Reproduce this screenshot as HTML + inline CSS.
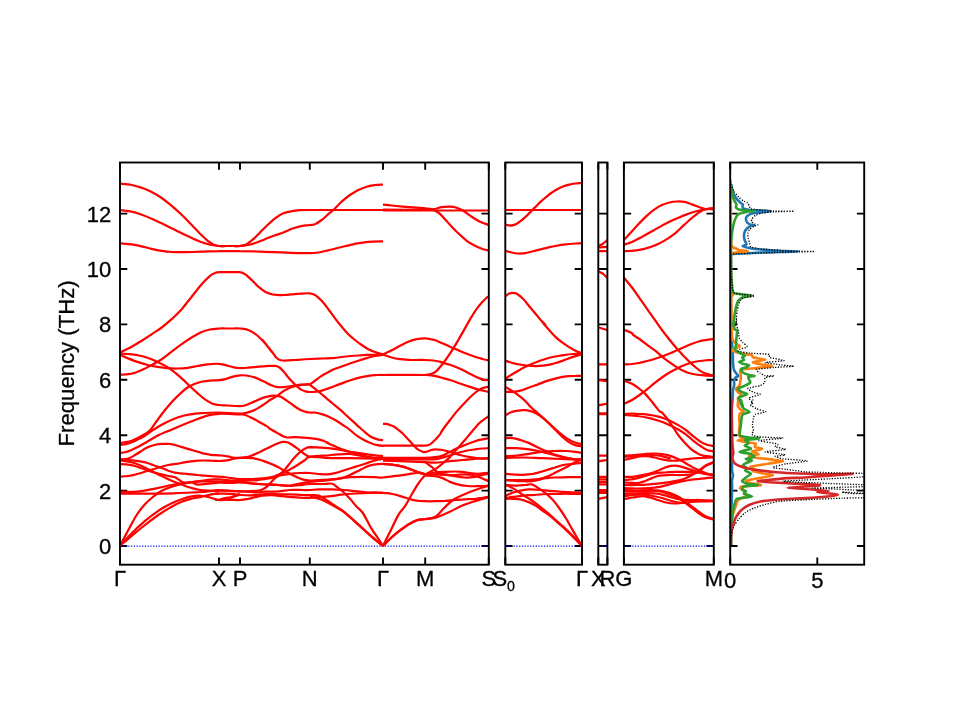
<!DOCTYPE html>
<html lang="en"><head><meta charset="utf-8"><title>Phonon band structure and DOS</title>
<style>
html,body{margin:0;padding:0;background:#fff;}
body{width:960px;height:720px;overflow:hidden;font-family:"Liberation Sans",sans-serif;}
svg{display:block;}
svg text{font-family:"Liberation Sans",sans-serif;font-size:22px;fill:#000;stroke:#000;stroke-width:0.3px;}
.sp{fill:none;stroke:#000;stroke-width:1.90;stroke-linecap:square;stroke-linejoin:miter;}
.tk{fill:none;stroke:#000;stroke-width:1.90;stroke-linecap:butt;}
.bd{fill:none;stroke:#f00;stroke-width:2.22;stroke-linecap:butt;stroke-linejoin:round;}
.zl{fill:none;stroke:#00f;stroke-width:1.25;stroke-dasharray:1.2 1.56;}
.ds{fill:none;stroke-width:2.6;stroke-linejoin:round;stroke-linecap:butt;}
.dt{fill:none;stroke:#000;stroke-width:1.3;stroke-dasharray:1.25 1.5;stroke-linejoin:round;}
</style></head><body>
<svg width="960" height="720" viewBox="0 0 960 720">
<rect width="960" height="720" fill="#fff"/>
<defs>
<clipPath id="c0"><rect x="120.0" y="162.5" width="368.8" height="402.2"/></clipPath>
<clipPath id="c1"><rect x="505.3" y="162.5" width="76.7" height="402.2"/></clipPath>
<clipPath id="c2"><rect x="598.3" y="162.5" width="9.1" height="402.2"/></clipPath>
<clipPath id="c3"><rect x="623.9" y="162.5" width="89.9" height="402.2"/></clipPath>
<clipPath id="c4"><rect x="730.2" y="162.5" width="134.0" height="402.2"/></clipPath>
</defs>
<path class="tk" d="M120.0,546.0 h7.3 M488.8,546.0 h-7.3 M120.0,490.6 h7.3 M488.8,490.6 h-7.3 M120.0,435.2 h7.3 M488.8,435.2 h-7.3 M120.0,379.8 h7.3 M488.8,379.8 h-7.3 M120.0,324.4 h7.3 M488.8,324.4 h-7.3 M120.0,269.0 h7.3 M488.8,269.0 h-7.3 M120.0,213.6 h7.3 M488.8,213.6 h-7.3 M505.3,546.0 h7.3 M582.0,546.0 h-7.3 M505.3,490.6 h7.3 M582.0,490.6 h-7.3 M505.3,435.2 h7.3 M582.0,435.2 h-7.3 M505.3,379.8 h7.3 M582.0,379.8 h-7.3 M505.3,324.4 h7.3 M582.0,324.4 h-7.3 M505.3,269.0 h7.3 M582.0,269.0 h-7.3 M505.3,213.6 h7.3 M582.0,213.6 h-7.3 M598.3,546.0 h7.3 M607.4,546.0 h-7.3 M598.3,490.6 h7.3 M607.4,490.6 h-7.3 M598.3,435.2 h7.3 M607.4,435.2 h-7.3 M598.3,379.8 h7.3 M607.4,379.8 h-7.3 M598.3,324.4 h7.3 M607.4,324.4 h-7.3 M598.3,269.0 h7.3 M607.4,269.0 h-7.3 M598.3,213.6 h7.3 M607.4,213.6 h-7.3 M623.9,546.0 h7.3 M713.8,546.0 h-7.3 M623.9,490.6 h7.3 M713.8,490.6 h-7.3 M623.9,435.2 h7.3 M713.8,435.2 h-7.3 M623.9,379.8 h7.3 M713.8,379.8 h-7.3 M623.9,324.4 h7.3 M713.8,324.4 h-7.3 M623.9,269.0 h7.3 M713.8,269.0 h-7.3 M623.9,213.6 h7.3 M713.8,213.6 h-7.3 M730.2,546.0 h7.3 M864.2,546.0 h-7.3 M730.2,490.6 h7.3 M864.2,490.6 h-7.3 M730.2,435.2 h7.3 M864.2,435.2 h-7.3 M730.2,379.8 h7.3 M864.2,379.8 h-7.3 M730.2,324.4 h7.3 M864.2,324.4 h-7.3 M730.2,269.0 h7.3 M864.2,269.0 h-7.3 M730.2,213.6 h7.3 M864.2,213.6 h-7.3 M219.0,564.7 v-7.3 M219.0,162.5 v7.3 M240.0,564.7 v-7.3 M240.0,162.5 v7.3 M309.8,564.7 v-7.3 M309.8,162.5 v7.3 M383.0,564.7 v-7.3 M383.0,162.5 v7.3 M425.2,564.7 v-7.3 M425.2,162.5 v7.3 M817.3,564.7 v-7.3 M817.3,162.5 v7.3 M120.0,564.7 v-7.3 M120.0,162.5 v7.3 M488.8,564.7 v-7.3 M488.8,162.5 v7.3 M505.3,564.7 v-7.3 M505.3,162.5 v7.3 M582.0,564.7 v-7.3 M582.0,162.5 v7.3 M598.3,564.7 v-7.3 M598.3,162.5 v7.3 M607.4,564.7 v-7.3 M607.4,162.5 v7.3 M623.9,564.7 v-7.3 M623.9,162.5 v7.3 M713.8,564.7 v-7.3 M713.8,162.5 v7.3 M730.2,564.7 v-7.3 M730.2,162.5 v7.3"/>
<path class="zl" d="M120.0,546.0 H488.8"/>
<path class="zl" d="M505.3,546.0 H582.0"/>
<path class="zl" d="M598.3,546.0 H607.4"/>
<path class="zl" d="M623.9,546.0 H713.8"/>
<g clip-path="url(#c0)">
<path class="bd" d="M120.0,183.7C121.9,183.9 128.1,184.3 131.7,185.0C135.3,185.7 138.3,186.7 141.7,187.8C145.0,189.0 148.3,190.3 151.7,192.0C155.0,193.7 158.3,195.7 161.7,198.0C165.0,200.3 168.3,203.1 171.7,205.8C175.0,208.6 178.3,211.5 181.7,214.7C185.0,217.9 188.3,221.6 191.7,225.0C195.0,228.4 198.9,232.6 201.7,235.3C204.4,238.0 206.4,239.6 208.3,241.2C210.3,242.7 211.6,243.7 213.3,244.5C215.1,245.3 216.9,245.8 219.0,246.0C221.1,246.2 223.4,246.0 225.8,246.0C228.2,246.0 231.0,246.0 233.3,246.0C235.7,246.0 237.8,246.3 240.0,246.0C242.2,245.7 244.4,245.3 246.7,244.2C248.9,243.0 251.1,241.1 253.3,239.2C255.6,237.2 257.8,234.7 260.0,232.5C262.2,230.3 264.2,228.2 266.7,225.8C269.2,223.5 272.2,220.4 275.0,218.3C277.8,216.2 280.6,214.5 283.3,213.3C286.1,212.1 288.9,211.7 291.7,211.2C294.4,210.6 297.0,210.4 300.0,210.2C303.0,210.0 302.9,210.0 309.8,210.0C316.8,210.0 329.5,210.0 341.7,210.0C353.9,210.0 376.1,210.0 383.0,210.0"/>
<path class="bd" d="M120.0,210.0C121.9,210.3 128.1,210.9 131.7,211.7C135.3,212.4 138.3,213.5 141.7,214.7C145.0,215.8 148.3,217.2 151.7,218.7C155.0,220.1 158.3,221.7 161.7,223.3C165.0,224.9 168.3,226.7 171.7,228.3C175.0,230.0 178.3,231.7 181.7,233.3C185.0,234.9 188.3,236.5 191.7,238.0C195.0,239.5 198.6,241.1 201.7,242.2C204.7,243.3 207.1,244.0 210.0,244.7C212.9,245.3 216.4,245.8 219.0,246.0C221.6,246.2 223.4,246.0 225.8,246.0C228.2,246.0 231.0,246.0 233.3,246.0C235.7,246.0 237.5,246.2 240.0,246.0C242.5,245.8 245.6,245.6 248.3,245.0C251.1,244.4 253.9,243.5 256.7,242.5C259.4,241.5 261.9,240.4 265.0,239.2C268.1,238.0 271.9,236.4 275.0,235.3C278.1,234.2 280.6,233.6 283.3,232.5C286.1,231.4 288.9,229.9 291.7,228.8C294.4,227.8 297.0,227.0 300.0,226.3C303.0,225.7 307.3,225.4 309.8,225.0C312.3,224.6 313.0,225.0 315.0,224.2C317.0,223.3 319.4,221.7 321.7,220.0C323.9,218.3 326.4,215.8 328.3,214.2C330.3,212.5 331.1,212.1 333.3,210.0C335.6,207.9 338.9,204.2 341.7,201.7C344.4,199.2 347.2,196.9 350.0,195.0C352.8,193.1 355.6,191.4 358.3,190.0C361.1,188.6 363.9,187.5 366.7,186.7C369.4,185.8 372.3,185.4 375.0,185.0C377.7,184.6 381.7,184.6 383.0,184.5"/>
<path class="bd" d="M120.0,243.3C121.9,243.5 128.1,243.8 131.7,244.3C135.3,244.8 138.3,245.6 141.7,246.3C145.0,247.1 148.3,248.1 151.7,248.8C155.0,249.6 158.3,250.3 161.7,250.8C165.0,251.4 168.3,251.8 171.7,252.0C175.0,252.2 178.3,252.2 181.7,252.2C185.0,252.2 188.3,252.1 191.7,252.0C195.0,251.9 198.3,251.8 201.7,251.7C205.0,251.6 208.8,251.4 211.7,251.3C214.6,251.2 216.6,251.2 219.0,251.2C221.4,251.1 223.4,251.2 225.8,251.2C228.2,251.2 231.0,251.2 233.3,251.2C235.7,251.2 236.1,251.1 240.0,251.2C243.9,251.2 250.8,251.3 256.7,251.5C262.5,251.7 269.2,251.9 275.0,252.2C280.8,252.4 285.9,252.7 291.7,252.8C297.5,253.0 305.4,253.2 309.8,253.2C314.3,253.1 315.2,253.0 318.3,252.5C321.4,252.0 324.4,251.2 328.3,250.3C332.2,249.4 337.2,248.1 341.7,247.0C346.1,245.9 350.6,244.7 355.0,243.8C359.4,243.0 363.7,242.2 368.3,241.8C373.0,241.4 380.6,241.4 383.0,241.3"/>
<path class="bd" d="M383.0,204.7C385.8,204.9 394.4,205.8 400.0,206.3C405.6,206.8 412.5,207.3 416.7,207.7C420.9,208.0 422.7,208.1 425.2,208.3C427.7,208.6 429.5,208.5 431.7,209.2C433.9,209.9 436.1,210.8 438.3,212.5C440.6,214.2 442.8,216.8 445.0,219.2C447.2,221.5 449.4,224.3 451.7,226.7C453.9,229.0 455.8,231.0 458.3,233.3C460.8,235.7 463.9,238.7 466.7,240.8C469.4,242.9 472.2,244.4 475.0,245.8C477.8,247.2 481.0,248.4 483.3,249.2C485.6,249.9 487.9,250.3 488.8,250.5"/>
<path class="bd" d="M383.0,209.7C390.0,209.7 416.8,209.8 425.2,209.7C433.6,209.6 430.6,209.6 433.3,209.2C436.1,208.8 438.9,207.6 441.7,207.2C444.4,206.8 447.5,206.6 450.0,206.7C452.5,206.8 454.4,207.0 456.7,207.7C458.9,208.4 460.8,209.3 463.3,210.8C465.8,212.3 468.9,214.9 471.7,216.7C474.4,218.5 477.1,220.3 480.0,221.7C482.9,223.1 487.4,224.4 488.8,225.0"/>
<path class="bd" d="M383.0,210.5C400.6,210.5 471.2,210.5 488.8,210.5"/>
<path class="bd" d="M120.0,352.5C121.9,351.5 128.1,348.6 131.7,346.7C135.3,344.7 138.3,342.9 141.7,340.8C145.0,338.8 148.3,336.4 151.7,334.2C155.0,331.9 158.3,330.0 161.7,327.5C165.0,325.0 168.3,322.2 171.7,319.2C175.0,316.1 178.3,312.9 181.7,309.2C185.0,305.4 188.3,300.8 191.7,296.7C195.0,292.5 198.6,287.6 201.7,284.2C204.7,280.7 207.8,277.7 210.0,275.8C212.2,274.0 213.5,273.6 215.0,273.0C216.5,272.4 217.2,272.3 219.0,272.2C220.8,272.0 223.4,272.2 225.8,272.2C228.2,272.2 231.0,272.2 233.3,272.2C235.7,272.2 238.1,271.8 240.0,272.2C241.9,272.5 243.1,272.9 245.0,274.2C246.9,275.5 249.4,277.9 251.7,280.0C253.9,282.1 256.1,284.7 258.3,286.7C260.6,288.6 262.8,290.4 265.0,291.7C267.2,292.9 270.0,293.7 271.7,294.2C273.3,294.7 273.1,294.5 275.0,294.7C276.9,294.8 280.6,295.1 283.3,295.0C286.1,294.9 288.9,294.6 291.7,294.3C294.4,294.1 297.0,293.8 300.0,293.7C303.0,293.5 307.3,293.1 309.8,293.3C312.3,293.6 313.0,293.8 315.0,295.0C317.0,296.2 319.4,298.5 321.7,300.8C323.9,303.2 326.1,306.2 328.3,309.2C330.6,312.1 332.8,315.4 335.0,318.3C337.2,321.2 339.4,324.0 341.7,326.7C343.9,329.3 346.1,331.9 348.3,334.2C350.6,336.4 352.8,338.2 355.0,340.0C357.2,341.8 359.4,343.5 361.7,345.0C363.9,346.5 366.1,348.0 368.3,349.2C370.6,350.3 372.6,351.1 375.0,352.0C377.4,352.9 381.7,354.1 383.0,354.5"/>
<path class="bd" d="M120.0,374.7C121.9,374.5 128.1,374.4 131.7,373.7C135.3,372.9 138.3,371.4 141.7,370.0C145.0,368.6 148.3,366.8 151.7,365.0C155.0,363.2 158.3,361.4 161.7,359.2C165.0,356.9 168.3,354.2 171.7,351.7C175.0,349.2 178.3,346.5 181.7,344.2C185.0,341.8 188.3,339.5 191.7,337.5C195.0,335.5 198.6,333.3 201.7,332.0C204.7,330.7 207.1,330.1 210.0,329.5C212.9,328.9 216.4,328.7 219.0,328.5C221.6,328.3 223.4,328.5 225.8,328.5C228.2,328.5 231.0,328.5 233.3,328.5C235.7,328.5 237.5,328.2 240.0,328.5C242.5,328.8 245.6,328.9 248.3,330.0C251.1,331.1 253.9,332.8 256.7,335.0C259.4,337.2 262.5,340.6 265.0,343.3C267.5,346.1 272.1,352.2 271.7,351.7C271.2,351.1 263.2,340.9 262.5,340.0C261.8,339.1 265.8,344.2 267.5,346.2C269.2,348.3 271.0,350.6 272.5,352.5C274.0,354.4 275.0,356.2 276.2,357.5C277.5,358.8 278.5,359.5 280.0,360.0C281.5,360.5 282.5,360.6 285.0,360.6C287.5,360.6 290.8,360.3 295.0,360.0C299.2,359.7 305.4,359.2 310.0,359.0C314.6,358.8 318.3,358.7 322.5,358.5C326.7,358.3 331.8,358.1 335.0,357.9C338.2,357.6 337.8,357.4 341.7,357.0C345.6,356.6 352.8,355.9 358.3,355.5C363.9,355.1 370.9,354.8 375.0,354.7C379.1,354.5 381.7,354.5 383.0,354.5"/>
<path class="bd" d="M383.0,354.5C384.4,353.8 388.8,351.8 391.7,350.3C394.5,348.9 397.2,347.3 400.0,345.8C402.8,344.4 405.6,342.8 408.3,341.7C411.1,340.6 413.9,339.7 416.7,339.2C419.5,338.6 422.4,338.2 425.2,338.3C427.9,338.4 430.6,338.9 433.3,339.7C436.1,340.4 438.9,341.8 441.7,343.0C444.4,344.2 447.2,345.4 450.0,346.7C452.8,347.9 455.6,349.1 458.3,350.3C461.1,351.5 463.9,352.8 466.7,353.8C469.4,354.9 472.2,355.8 475.0,356.7C477.8,357.6 481.0,358.5 483.3,359.2C485.6,359.8 487.9,360.3 488.8,360.5"/>
<path class="bd" d="M383.0,354.5C384.4,355.0 388.8,356.7 391.7,357.5C394.5,358.3 397.2,358.8 400.0,359.2C402.8,359.6 405.6,359.7 408.3,359.8C411.1,360.0 413.9,360.0 416.7,360.0C419.5,360.0 422.4,359.9 425.2,360.0C427.9,360.1 430.6,360.2 433.3,360.5C436.1,360.8 440.6,361.8 441.7,362.0C442.8,362.2 438.6,361.4 440.0,361.9C441.4,362.3 446.7,363.6 450.0,364.8C453.3,365.9 456.7,367.2 460.0,368.8C463.3,370.2 467.1,372.3 470.0,373.8C472.9,375.2 475.2,376.5 477.5,377.5C479.8,378.5 481.9,379.3 483.8,379.8C485.6,380.2 487.9,380.2 488.8,380.2"/>
<path class="bd" d="M425.0,375.0C426.1,374.8 429.7,374.4 431.7,373.7C433.6,373.0 435.0,372.3 436.7,370.8C438.3,369.4 440.0,367.1 441.7,365.0C443.3,362.9 444.7,361.1 446.7,358.3C448.6,355.6 451.4,351.4 453.3,348.3C455.3,345.3 456.4,343.3 458.3,340.0C460.3,336.7 462.8,332.2 465.0,328.3C467.2,324.4 469.4,320.3 471.7,316.7C473.9,313.1 476.1,309.6 478.3,306.7C480.6,303.8 483.2,300.9 485.0,299.2C486.8,297.4 488.2,296.8 488.8,296.3"/>
<path class="bd" d="M120.0,353.5C121.2,353.6 124.6,353.7 127.5,354.0C130.4,354.3 134.2,354.6 137.5,355.2C140.8,355.9 144.2,356.6 147.5,357.8C150.8,358.9 154.6,360.6 157.5,361.9C160.4,363.2 162.5,364.2 165.0,365.6C167.5,367.1 170.0,368.8 172.5,370.6C175.0,372.5 177.1,374.3 180.0,376.9C182.9,379.5 187.1,383.5 190.0,386.2C192.9,389.0 195.0,390.9 197.5,393.1C200.0,395.3 202.5,397.6 205.0,399.4C207.5,401.1 210.2,402.8 212.5,403.8C214.8,404.7 216.5,404.7 219.0,405.0C221.5,405.3 224.0,405.3 227.5,405.5C231.0,405.7 236.9,406.3 240.0,406.2C243.1,406.2 243.8,405.8 246.2,405.0C248.7,404.2 251.8,402.5 254.6,401.4C257.4,400.2 260.1,398.8 262.9,397.9C265.7,397.0 268.8,396.2 271.2,395.8C273.7,395.5 275.8,395.7 277.5,395.9C279.2,396.2 279.9,396.3 281.7,397.2C283.4,398.1 285.8,399.9 287.9,401.4C290.0,402.8 292.1,404.6 294.2,406.0C296.2,407.5 298.3,409.0 300.4,410.0C302.5,411.0 305.1,411.7 306.7,412.1C308.2,412.5 308.3,412.4 309.8,412.5C311.3,412.6 313.8,412.4 315.6,412.6C317.5,412.8 318.9,413.3 320.8,413.9C322.7,414.4 325.0,415.1 327.1,415.9C329.2,416.8 331.2,417.9 333.3,419.1C335.4,420.2 337.5,421.4 339.6,422.7C341.7,424.0 344.1,425.7 345.8,426.9C347.6,428.1 348.1,428.4 350.0,430.0C351.9,431.6 355.0,434.5 357.5,436.2C360.0,438.0 362.5,439.4 365.0,440.6C367.5,441.9 370.4,443.0 372.5,443.8C374.6,444.5 375.8,444.9 377.5,445.2C379.2,445.6 382.1,445.9 383.0,446.0"/>
<path class="bd" d="M120.0,354.8C121.2,355.3 124.6,356.9 127.5,358.1C130.4,359.3 134.2,360.7 137.5,361.9C140.8,363.0 144.2,364.2 147.5,365.0C150.8,365.8 154.2,366.4 157.5,366.9C160.8,367.4 164.2,367.9 167.5,368.1C170.8,368.4 174.2,368.6 177.5,368.5C180.8,368.4 184.2,368.2 187.5,367.8C190.8,367.3 194.2,366.6 197.5,366.0C200.8,365.4 203.9,364.8 207.5,364.4C211.1,364.0 216.0,363.6 219.0,363.8C222.0,363.9 223.0,364.6 225.4,365.2C227.9,365.8 231.3,366.8 233.8,367.3C236.2,367.8 237.6,368.0 240.0,368.0C242.4,368.1 245.2,367.9 248.3,367.7C251.5,367.5 255.3,367.0 258.8,366.7C262.2,366.4 266.4,366.1 269.2,365.9C271.9,365.8 273.7,365.7 275.4,365.9C277.2,366.2 278.2,366.5 279.6,367.5C281.0,368.5 282.4,370.1 283.8,371.7C285.1,373.2 286.5,375.2 287.9,376.9C289.3,378.5 290.7,380.1 292.1,381.6C293.5,383.0 294.7,384.3 296.2,385.7C297.8,387.1 299.7,388.9 301.5,389.9C303.2,390.9 305.3,391.3 306.7,391.7C308.1,392.0 308.3,392.0 309.8,392.0C311.3,392.0 313.8,391.8 315.6,391.7C317.5,391.5 318.9,391.4 320.8,390.9C322.7,390.5 324.7,389.7 327.1,388.9C329.5,388.0 332.6,386.8 335.4,385.7C338.2,384.7 341.0,383.6 343.8,382.6C346.5,381.6 349.3,380.7 352.1,379.8C354.9,378.9 357.6,378.1 360.4,377.4C363.2,376.7 366.0,376.2 368.8,375.8C371.5,375.4 374.7,375.2 377.1,375.0C379.5,374.8 382.0,374.8 383.0,374.8"/>
<path class="bd" d="M120.0,443.0C120.8,442.9 123.1,442.7 125.0,442.3C126.9,441.9 129.4,441.4 131.7,440.7C133.9,439.9 136.1,438.8 138.3,437.7C140.6,436.6 143.0,435.3 145.0,434.0C147.0,432.7 148.2,432.3 150.3,430.0C152.4,427.7 155.1,423.3 157.5,420.0C159.9,416.7 162.5,413.1 165.0,410.0C167.5,406.9 170.0,404.0 172.5,401.2C175.0,398.5 177.5,396.0 180.0,393.8C182.5,391.5 185.0,389.2 187.5,387.5C190.0,385.8 192.5,384.8 195.0,383.8C197.5,382.8 200.0,382.0 202.5,381.5C205.0,381.0 207.2,380.8 210.0,380.6C212.8,380.4 216.4,380.5 219.0,380.2C221.6,380.0 223.0,379.8 225.4,379.2C227.9,378.5 231.3,377.0 233.8,376.4C236.2,375.7 237.9,375.5 240.0,375.3C242.1,375.2 243.8,375.2 246.2,375.5C248.7,375.9 251.8,376.5 254.6,377.4C257.4,378.3 260.1,379.7 262.9,381.0C265.7,382.3 268.8,384.2 271.2,385.2C273.7,386.2 275.4,386.8 277.5,387.1C279.6,387.4 281.3,387.3 283.8,387.1C286.2,386.9 289.3,386.4 292.1,386.0C294.9,385.6 298.0,385.0 300.4,384.7C302.8,384.4 305.1,384.4 306.7,384.4C308.2,384.3 309.3,384.4 309.8,384.4"/>
<path class="bd" d="M309.8,384.7C310.6,385.3 312.7,386.9 314.6,388.3C316.4,389.8 318.8,391.8 320.8,393.5C322.9,395.3 325.0,397.0 327.1,398.8C329.2,400.5 331.2,402.2 333.3,404.0C335.4,405.7 337.5,407.3 339.6,409.2C341.7,411.0 343.8,413.0 345.8,414.9C347.9,416.8 350.0,418.7 352.1,420.6C354.2,422.5 356.6,424.8 358.3,426.4C360.1,427.9 360.6,428.4 362.5,430.0C364.4,431.6 367.5,434.7 370.0,436.2C372.5,437.8 375.3,438.7 377.5,439.4C379.7,440.0 382.1,440.1 383.0,440.2"/>
<path class="bd" d="M309.8,384.7C310.6,384.1 312.7,382.4 314.6,381.0C316.4,379.7 318.8,377.7 320.8,376.4C322.9,375.0 325.0,373.8 327.1,372.7C329.2,371.6 330.9,370.6 333.3,369.6C335.8,368.5 338.9,367.5 341.7,366.5C344.4,365.5 347.2,364.5 350.0,363.5C352.8,362.6 355.6,361.6 358.3,360.7C361.1,359.8 363.9,358.9 366.7,358.1C369.4,357.3 372.3,356.6 375.0,356.0C377.7,355.5 381.7,355.2 383.0,355.0"/>
<path class="bd" d="M120.0,445.0C120.8,444.9 123.1,444.8 125.0,444.3C126.9,443.9 129.4,443.2 131.7,442.3C133.9,441.5 136.1,440.4 138.3,439.3C140.6,438.2 142.9,437.0 145.0,435.7C147.1,434.3 149.7,432.3 151.0,431.3C152.3,430.4 150.7,431.4 153.0,430.0C155.3,428.6 160.9,425.2 165.0,423.1C169.1,421.0 173.3,419.0 177.5,417.5C181.7,416.0 185.8,415.1 190.0,414.4C194.2,413.6 197.7,413.4 202.5,413.1C207.3,412.8 212.8,412.4 219.0,412.5C225.2,412.6 235.5,413.5 240.0,413.5C244.5,413.6 243.8,413.5 246.2,412.9C248.7,412.3 251.8,411.3 254.6,410.0C257.4,408.7 260.1,406.8 262.9,405.0C265.7,403.2 268.8,400.8 271.2,399.3C273.7,397.7 275.4,397.0 277.5,395.6C279.6,394.2 281.7,392.2 283.8,390.9C285.8,389.6 287.9,388.6 290.0,387.8C292.1,387.0 294.0,386.5 296.2,385.9C298.5,385.4 301.3,384.9 303.5,384.7C305.8,384.4 308.8,384.4 309.8,384.4"/>
<path class="bd" d="M120.0,453.0C120.8,452.9 123.1,452.8 125.0,452.3C126.9,451.8 129.4,450.9 131.7,450.0C133.9,449.1 136.1,447.8 138.3,446.7C140.6,445.5 142.8,444.3 145.0,443.0C147.2,441.7 149.4,440.3 151.7,439.0C153.9,437.7 156.1,436.4 158.3,435.3C160.6,434.2 162.9,433.2 165.0,432.3C167.1,431.4 168.1,431.2 171.0,430.0C173.9,428.8 178.5,426.7 182.5,425.0C186.5,423.3 190.8,421.6 195.0,420.0C199.2,418.4 203.5,416.7 207.5,415.6C211.5,414.6 213.6,414.0 219.0,413.8C224.4,413.5 235.8,414.2 240.0,414.4C244.2,414.5 242.4,414.3 244.2,414.8C245.9,415.3 248.0,416.0 250.4,417.2C252.8,418.3 256.0,420.1 258.8,421.7C261.5,423.2 265.2,425.2 267.1,426.4C269.0,427.5 268.3,427.6 270.0,428.8C271.7,429.9 275.2,431.8 277.5,433.1C279.8,434.4 282.1,435.8 283.8,436.5C285.4,437.2 285.4,437.4 287.5,437.5C289.6,437.6 292.5,437.1 296.2,437.2C300.0,437.4 306.0,437.8 309.8,438.1C313.5,438.5 315.8,438.6 318.8,439.4C321.7,440.1 326.0,441.9 327.5,442.5C329.0,443.1 325.8,442.3 327.5,443.1C329.2,444.0 334.2,446.1 337.5,447.5C340.8,448.9 344.2,450.4 347.5,451.2C350.8,452.1 354.2,452.2 357.5,452.8C360.8,453.3 364.2,453.9 367.5,454.4C370.8,454.9 374.9,455.3 377.5,455.6C380.1,455.9 382.1,456.1 383.0,456.2"/>
<path class="bd" d="M120.0,459.3C120.8,459.3 123.4,459.4 125.0,459.2C126.6,459.0 128.0,458.7 129.7,458.0C131.3,457.3 133.2,456.1 135.0,455.0C136.8,453.9 138.6,452.8 140.3,451.7C142.1,450.6 143.9,449.3 145.7,448.3C147.4,447.4 149.2,446.6 151.0,446.0C152.8,445.4 154.6,444.9 156.3,444.5C158.1,444.2 159.9,444.0 161.7,443.9C163.4,443.8 165.2,443.8 167.0,443.9C168.8,443.9 168.2,443.3 172.3,444.3C176.4,445.4 187.4,448.8 191.7,450.0C195.9,451.2 195.6,451.1 197.7,451.7C199.8,452.3 202.1,453.1 204.3,453.7C206.6,454.2 208.6,454.5 211.0,454.8C213.4,455.1 216.2,455.1 219.0,455.3C221.8,455.6 225.2,455.9 227.7,456.3C230.1,456.7 231.6,457.4 233.7,457.7C235.7,457.9 238.9,457.8 240.0,457.9"/>
<path class="bd" d="M120.0,476.7C121.4,476.6 125.8,476.3 128.3,476.0C130.8,475.7 132.8,475.2 135.0,474.7C137.2,474.1 139.4,473.3 141.7,472.7C143.9,472.0 146.1,471.3 148.3,470.7C150.6,470.0 152.8,469.3 155.0,468.7C157.2,468.0 159.4,467.3 161.7,466.7C163.9,466.1 165.7,465.5 168.3,465.0C171.0,464.5 175.0,464.1 177.7,463.7C180.3,463.2 182.1,462.7 184.3,462.3C186.6,461.9 188.8,461.6 191.0,461.3C193.2,461.1 195.4,460.8 197.7,460.7C199.9,460.5 202.1,460.5 204.3,460.5C206.6,460.5 208.6,460.6 211.0,460.7C213.4,460.7 216.8,461.0 219.0,461.0C221.2,461.0 222.6,460.9 224.3,460.7C226.1,460.5 228.1,460.2 229.7,459.9C231.2,459.5 231.9,459.0 233.7,458.7C235.4,458.3 238.9,458.0 240.0,457.9"/>
<path class="bd" d="M120.0,459.7C121.4,459.7 125.8,459.8 128.3,460.0C130.8,460.2 132.8,460.4 135.0,460.7C137.2,460.9 139.4,461.2 141.7,461.7C143.9,462.1 146.1,462.7 148.3,463.3C150.6,464.0 152.8,464.9 155.0,465.7C157.2,466.4 159.4,467.2 161.7,468.0C163.9,468.8 166.1,469.9 168.3,470.7C170.6,471.4 173.4,472.3 175.0,472.7C176.6,473.1 176.1,472.8 177.7,473.0C179.2,473.2 182.1,473.4 184.3,473.7C186.6,473.9 188.8,474.1 191.0,474.3C193.2,474.6 195.4,474.8 197.7,475.0C199.9,475.2 202.1,475.5 204.3,475.7C206.6,475.9 208.6,476.0 211.0,476.1C213.4,476.3 216.2,476.4 219.0,476.7C221.8,476.9 224.0,477.1 227.5,477.5C231.0,477.9 235.8,478.8 240.0,479.0C244.2,479.2 248.3,479.1 252.5,479.0C256.7,478.9 261.7,478.5 265.0,478.1C268.3,477.8 270.4,477.4 272.5,476.9C274.6,476.4 275.8,475.6 277.5,475.0C279.2,474.4 280.4,474.1 282.5,473.1C284.6,472.2 287.5,470.7 290.0,469.4C292.5,468.0 295.0,466.6 297.5,465.0C300.0,463.4 303.0,461.4 305.0,460.0C307.0,458.6 306.4,457.2 309.8,456.9C313.1,456.5 318.3,457.5 325.0,457.8C331.7,458.0 340.3,458.0 350.0,458.1C359.7,458.3 377.5,458.6 383.0,458.8"/>
<path class="bd" d="M120.0,460.3C121.4,460.6 125.8,461.2 128.3,461.7C130.8,462.2 132.8,462.6 135.0,463.3C137.2,464.1 139.4,465.0 141.7,466.0C143.9,467.0 146.1,468.2 148.3,469.3C150.6,470.4 152.8,471.6 155.0,472.7C157.2,473.8 159.2,474.8 161.7,476.0C164.2,477.2 166.9,478.7 170.0,480.0C173.1,481.3 176.7,482.5 180.0,483.8C183.3,485.0 186.7,486.5 190.0,487.5C193.3,488.5 196.7,489.5 200.0,490.0C203.3,490.5 206.8,490.5 210.0,490.6C213.2,490.8 217.5,490.8 219.0,490.9"/>
<path class="bd" d="M120.0,464.0C121.4,464.1 125.8,464.3 128.3,464.7C130.8,465.0 132.8,465.4 135.0,466.0C137.2,466.6 139.4,467.6 141.7,468.3C143.9,469.1 146.1,469.9 148.3,470.7C150.6,471.4 152.8,472.1 155.0,472.7C157.2,473.3 159.4,473.8 161.7,474.3C163.9,474.9 166.1,475.5 168.3,476.0C170.6,476.5 172.3,476.2 175.0,477.3C177.7,478.4 180.5,482.0 184.3,482.7C188.1,483.4 193.2,481.8 197.7,481.3C202.1,480.8 207.4,480.0 211.0,479.7C214.6,479.4 214.2,479.1 219.0,479.3C223.8,479.5 233.5,480.9 240.0,481.0C246.5,481.1 252.7,480.5 258.0,480.0C263.3,479.5 268.3,478.8 272.0,478.0C275.7,477.2 277.0,476.2 280.0,475.5C283.0,474.8 286.7,474.2 290.0,473.8C293.3,473.3 296.7,473.1 300.0,473.0C303.3,472.9 306.7,472.8 309.8,473.0C312.9,473.2 315.8,473.8 318.8,474.0C321.7,474.2 324.8,474.5 327.5,474.4C330.2,474.2 332.1,473.9 335.0,473.1C337.9,472.4 341.7,471.0 345.0,470.0C348.3,469.0 351.7,467.9 355.0,466.9C358.3,465.8 362.1,464.7 365.0,463.8C367.9,462.8 370.4,461.9 372.5,461.2C374.6,460.6 375.8,460.2 377.5,459.8C379.2,459.3 382.1,458.9 383.0,458.8"/>
<path class="bd" d="M120.0,492.0C123.3,491.9 133.9,491.9 140.0,491.3C146.1,490.7 151.4,489.4 156.7,488.3C161.9,487.3 167.5,485.8 171.7,485.0C175.8,484.2 178.3,483.8 181.7,483.3C185.0,482.9 188.9,482.3 191.7,482.5C194.4,482.7 194.8,484.6 198.0,484.7C201.2,484.8 207.5,483.6 211.0,483.3C214.5,483.0 215.5,482.8 219.0,482.7C222.5,482.6 228.5,483.0 232.0,483.0C235.5,483.0 235.6,482.3 240.0,482.5C244.4,482.7 253.6,483.6 258.3,484.0C263.0,484.4 264.9,484.5 268.3,484.7C271.8,484.9 275.4,484.8 279.0,485.0C282.6,485.2 286.1,486.0 290.0,486.0C293.9,486.0 299.2,485.1 302.5,484.8C305.8,484.4 306.1,484.2 309.8,484.0C313.6,483.8 321.2,483.8 325.0,483.8C328.8,483.7 330.4,483.1 332.5,483.8C334.6,484.4 335.6,486.0 337.5,487.5C339.4,489.0 341.7,490.6 343.8,492.5C345.8,494.4 347.9,496.5 350.0,498.8C352.1,501.0 354.2,504.0 356.2,506.2C358.3,508.5 360.0,508.9 362.5,512.5C365.0,516.1 368.6,523.8 371.2,528.1C373.8,532.4 376.2,535.5 378.1,538.4C380.1,541.4 382.1,544.7 382.9,546.0"/>
<path class="bd" d="M215.0,481.7C215.7,481.7 214.8,481.6 219.0,481.7C223.2,481.8 233.4,481.6 240.0,482.0C246.6,482.4 251.8,483.5 258.3,484.0C264.8,484.5 275.6,484.8 279.0,485.0"/>
<path class="bd" d="M268.0,484.5C269.8,484.6 275.3,485.0 279.0,485.2C282.7,485.4 286.5,485.8 290.0,485.5C293.5,485.2 296.7,484.1 300.0,483.5C303.3,482.9 305.6,482.4 309.8,481.9C313.9,481.4 320.4,481.1 325.0,480.6C329.6,480.1 333.3,479.3 337.5,478.8C341.7,478.2 345.8,477.6 350.0,477.2C354.2,476.9 358.3,476.9 362.5,476.9C366.7,476.9 371.6,477.1 375.0,477.2C378.4,477.4 379.9,477.7 383.0,477.5C386.1,477.3 389.9,476.7 393.8,476.2C397.6,475.8 401.9,475.2 406.2,474.6C410.6,474.0 416.8,472.5 420.0,472.5C423.2,472.5 424.4,474.1 425.2,474.4"/>
<path class="bd" d="M120.0,493.7C124.7,493.7 139.4,493.7 148.3,493.7C157.2,493.6 166.1,493.5 173.3,493.3C180.6,493.1 186.9,492.7 191.7,492.5C196.4,492.3 197.1,492.4 201.7,492.0C206.2,491.6 214.0,490.5 219.0,490.3C224.0,490.1 228.2,490.7 231.7,490.8C235.2,491.0 236.1,491.1 240.0,491.3C243.9,491.6 250.8,492.2 255.0,492.3C259.2,492.4 261.0,491.9 265.0,491.7C269.0,491.5 274.8,491.6 279.0,491.3C283.2,491.0 286.1,490.2 290.0,490.0C293.9,489.8 299.2,490.0 302.5,490.0C305.8,490.0 307.1,490.1 309.8,490.0C312.5,489.9 315.2,489.5 318.8,489.4C322.3,489.3 327.1,489.3 331.2,489.4C335.4,489.5 339.6,489.7 343.8,490.0C347.9,490.3 352.1,490.8 356.2,491.2C360.4,491.7 364.3,492.2 368.8,492.5C373.2,492.8 379.5,492.6 383.0,492.8C386.5,492.9 387.6,493.1 390.0,493.5C392.4,493.9 395.0,494.6 397.5,495.2C400.0,495.9 402.5,496.8 405.0,497.5C407.5,498.2 410.0,499.2 412.5,499.8C415.0,500.3 417.9,500.8 420.0,501.0C422.1,501.2 422.8,501.2 425.2,501.2C427.8,501.3 431.7,501.3 435.0,501.2C438.3,501.2 441.7,501.2 445.0,501.0C448.3,500.8 451.7,500.3 455.0,500.0C458.3,499.7 461.7,499.6 465.0,499.4C468.3,499.2 472.1,499.0 475.0,498.8C477.9,498.5 480.2,498.1 482.5,497.8C484.8,497.4 487.7,497.0 488.8,496.9"/>
<path class="bd" d="M120.0,545.8C121.4,543.2 125.6,535.1 128.3,530.0C131.1,524.9 133.9,519.3 136.7,515.0C139.4,510.7 142.2,507.2 145.0,504.2C147.8,501.1 150.6,498.9 153.3,496.7C156.1,494.4 158.6,492.5 161.7,490.8C164.7,489.2 168.3,487.8 171.7,486.7C175.0,485.6 178.3,484.9 181.7,484.2C185.0,483.4 188.3,482.5 191.7,482.0C195.0,481.5 197.1,481.4 201.7,481.3C206.2,481.3 216.1,481.6 219.0,481.7"/>
<path class="bd" d="M120.0,545.8C121.9,543.8 127.5,537.5 131.7,533.3C135.8,529.2 140.6,524.6 145.0,520.8C149.4,517.1 153.9,513.8 158.3,510.8C162.8,507.9 167.8,505.3 171.7,503.3C175.6,501.4 178.3,500.3 181.7,499.2C185.0,498.0 188.3,496.9 191.7,496.3C195.0,495.8 198.6,495.6 201.7,495.8C204.7,496.0 207.1,496.8 210.0,497.5C212.9,498.2 215.9,499.8 219.0,500.0C222.1,500.2 225.7,499.3 228.3,498.7C231.0,498.1 233.1,497.0 235.0,496.3C236.9,495.7 239.2,494.9 240.0,494.7"/>
<path class="bd" d="M120.0,545.8C121.9,544.2 127.5,539.3 131.7,535.8C135.8,532.4 140.6,528.5 145.0,525.0C149.4,521.5 153.9,518.1 158.3,515.0C162.8,511.9 167.8,508.9 171.7,506.7C175.6,504.4 178.3,503.0 181.7,501.7C185.0,500.3 188.9,499.4 191.7,498.7C194.4,498.0 195.6,498.1 198.3,497.5C201.1,496.9 204.9,495.7 208.3,495.0C211.8,494.3 217.2,493.6 219.0,493.3"/>
<path class="bd" d="M215.0,490.3C219.2,490.5 232.8,491.2 240.0,491.3C247.2,491.4 254.1,491.2 258.3,490.7C262.5,490.1 263.3,488.9 265.0,488.0C266.7,487.1 267.2,486.1 268.3,485.0C269.4,483.9 270.6,482.8 271.7,481.7C272.8,480.6 273.8,479.4 275.0,478.3C276.2,477.2 277.3,476.5 279.0,475.0C280.7,473.5 283.2,471.4 285.0,469.4C286.8,467.4 288.3,465.2 290.0,463.1C291.7,461.0 293.1,458.9 295.0,456.9C296.9,454.9 299.4,452.7 301.2,451.2C303.1,449.8 304.8,448.8 306.2,448.1C307.7,447.5 306.6,447.3 309.8,447.2C312.9,447.2 320.4,447.4 325.0,447.8C329.6,448.1 333.3,448.7 337.5,449.4C341.7,450.1 345.8,450.8 350.0,451.9C354.2,452.9 358.8,454.6 362.5,455.6C366.2,456.6 369.1,457.3 372.5,457.8C375.9,458.2 381.2,458.4 383.0,458.5"/>
<path class="bd" d="M215.0,493.7C216.7,493.7 221.7,493.6 225.0,493.7C228.3,493.8 232.2,494.1 235.0,494.3C237.8,494.5 238.9,494.8 241.7,495.0C244.5,495.2 248.9,495.4 251.7,495.3C254.5,495.2 256.1,494.9 258.3,494.7C260.5,494.5 261.6,494.1 265.0,494.0C268.4,493.9 274.8,494.2 279.0,494.3C283.2,494.4 286.1,494.3 290.0,494.4C293.9,494.5 299.2,494.9 302.5,495.0C305.8,495.1 307.1,495.1 309.8,495.2C312.5,495.4 315.8,494.7 318.8,495.6C321.7,496.5 324.4,498.6 327.5,500.6C330.6,502.6 334.6,505.5 337.5,507.5C340.4,509.5 340.5,508.8 345.0,512.5C349.5,516.2 360.0,526.0 364.4,530.0C368.7,533.9 368.1,533.5 371.2,536.1C374.3,538.8 381.0,544.4 382.9,546.0"/>
<path class="bd" d="M215.0,500.0C217.1,500.0 223.3,499.8 227.5,499.8C231.7,499.8 236.7,500.1 240.0,500.0C243.3,499.9 245.0,499.5 247.5,499.0C250.0,498.5 252.5,497.8 255.0,497.2C257.5,496.7 259.6,495.9 262.5,495.6C265.4,495.3 269.2,495.1 272.5,495.2C275.8,495.4 279.2,495.9 282.5,496.2C285.8,496.6 289.2,497.0 292.5,497.2C295.8,497.5 299.6,497.7 302.5,497.8C305.4,497.8 306.5,497.9 309.8,497.8C313.1,497.6 318.9,497.1 322.5,496.9C326.1,496.6 327.7,496.7 331.2,496.2C334.8,495.8 339.6,494.8 343.8,494.4C347.9,493.9 352.1,493.8 356.2,493.5C360.4,493.2 364.3,492.9 368.8,492.8C373.2,492.6 380.6,492.8 383.0,492.8"/>
<path class="bd" d="M309.8,496.9C311.3,497.2 315.8,497.8 318.8,498.8C321.7,499.7 324.4,500.9 327.5,502.5C330.6,504.1 334.6,506.4 337.5,508.1C340.4,509.8 340.5,509.1 345.0,512.8C349.5,516.4 360.0,526.2 364.4,530.2C368.7,534.1 368.1,533.7 371.2,536.4C374.3,539.0 381.0,544.4 382.9,546.0"/>
<path class="bd" d="M219.0,500.0C220.0,499.7 222.9,498.5 225.0,498.0C227.1,497.5 229.8,497.5 231.7,497.0C233.6,496.5 235.3,495.4 236.7,495.0C238.1,494.6 239.4,494.4 240.0,494.3"/>
<path class="bd" d="M240.0,457.9C241.7,457.6 246.7,457.2 250.0,456.2C253.3,455.2 256.7,453.4 260.0,451.9C263.3,450.3 267.1,448.3 270.0,446.9C272.9,445.5 275.4,444.3 277.5,443.5C279.6,442.7 280.8,442.1 282.5,441.9C284.2,441.7 285.8,441.7 287.5,442.2C289.2,442.8 290.4,443.6 292.5,445.0C294.6,446.4 297.9,449.1 300.0,450.6C302.1,452.2 303.4,453.4 305.0,454.4C306.6,455.4 306.4,456.3 309.8,456.5C313.1,456.7 320.4,456.0 325.0,455.6C329.6,455.3 333.3,454.6 337.5,454.4C341.7,454.1 345.8,453.7 350.0,454.0C354.2,454.3 358.8,455.7 362.5,456.2C366.2,456.8 369.1,457.2 372.5,457.5C375.9,457.8 381.2,457.7 383.0,457.8"/>
<path class="bd" d="M240.0,457.9C242.1,457.9 248.8,457.7 252.5,458.1C256.2,458.6 259.2,459.6 262.5,460.6C265.8,461.7 269.6,463.1 272.5,464.4C275.4,465.6 277.5,466.8 280.0,468.1C282.5,469.5 285.0,471.1 287.5,472.5C290.0,473.9 292.5,475.1 295.0,476.2C297.5,477.4 300.0,478.6 302.5,479.4C305.0,480.1 307.0,480.5 309.8,480.6C312.5,480.7 315.2,480.2 318.8,480.0C322.3,479.8 327.5,479.7 331.2,479.4C335.0,479.1 338.1,478.9 341.2,478.1C344.4,477.4 347.3,476.1 350.0,475.0C352.7,473.9 355.0,472.5 357.5,471.2C360.0,470.0 362.5,468.6 365.0,467.5C367.5,466.4 369.5,465.4 372.5,464.8C375.5,464.1 379.5,463.8 383.0,463.8C386.5,463.8 390.3,464.2 393.8,464.8C397.2,465.3 400.6,466.0 403.8,466.9C406.9,467.8 410.0,469.1 412.5,470.0C415.0,470.9 416.6,471.8 418.8,472.5C420.9,473.2 424.2,474.1 425.2,474.4"/>
<path class="bd" d="M383.0,445.6C385.8,445.6 394.7,445.6 400.0,445.6C405.3,445.6 410.8,445.6 415.0,445.6C419.2,445.6 422.8,445.8 425.2,445.6C427.8,445.4 428.4,445.3 430.0,444.4C431.6,443.4 433.3,441.7 435.0,440.0C436.7,438.3 438.8,436.0 440.0,434.4C441.2,432.7 440.8,432.4 442.5,430.0C444.2,427.6 447.5,423.2 450.0,420.0C452.5,416.8 455.0,413.5 457.5,410.6C460.0,407.7 462.5,405.1 465.0,402.5C467.5,399.9 470.0,397.2 472.5,395.0C475.0,392.8 477.9,390.6 480.0,389.4C482.1,388.1 483.5,387.9 485.0,387.5C486.5,387.1 488.1,387.0 488.8,386.9"/>
<path class="bd" d="M383.0,375.0C385.8,375.0 393.0,374.8 400.0,374.8C407.0,374.8 419.8,374.9 425.2,375.0C430.7,375.1 430.0,375.2 432.5,375.6C435.0,376.0 437.1,376.5 440.0,377.2C442.9,378.0 446.7,379.0 450.0,380.0C453.3,381.0 456.7,382.4 460.0,383.5C463.3,384.6 466.7,385.8 470.0,386.9C473.3,388.0 476.9,389.2 480.0,390.0C483.1,390.8 487.3,391.6 488.8,391.9"/>
<path class="bd" d="M383.0,423.8C383.5,423.8 385.1,423.7 386.2,423.9C387.4,424.1 388.8,424.6 390.0,425.0C391.2,425.4 392.5,425.9 393.8,426.6C395.0,427.2 396.2,428.1 397.5,429.1C398.8,430.0 400.0,431.0 401.2,432.2C402.5,433.3 403.8,434.6 405.0,435.9C406.2,437.2 407.5,438.6 408.8,440.0C410.0,441.4 411.2,442.7 412.5,444.1C413.8,445.4 415.0,447.0 416.2,448.1C417.5,449.2 418.9,450.0 420.0,450.6C421.1,451.2 422.3,451.6 423.1,451.9C424.0,452.1 424.4,452.1 425.2,452.0C426.0,451.9 427.1,451.6 428.1,451.2C429.1,450.9 430.1,450.3 431.2,450.0C432.4,449.7 433.1,449.4 435.0,449.4C436.9,449.4 440.0,449.6 442.5,450.0C445.0,450.4 447.1,451.0 450.0,451.9C452.9,452.7 456.7,454.1 460.0,455.0C463.3,455.9 466.7,456.7 470.0,457.2C473.3,457.8 476.9,458.3 480.0,458.5C483.1,458.7 487.3,458.5 488.8,458.5"/>
<path class="bd" d="M383.0,457.8C385.8,457.8 393.0,457.8 400.0,457.8C407.0,457.8 419.4,457.8 425.2,457.8C431.1,457.7 432.1,457.6 435.0,457.2C437.9,456.9 440.0,456.5 442.5,455.6C445.0,454.7 447.5,453.1 450.0,451.9C452.5,450.6 455.0,449.3 457.5,448.1C460.0,447.0 462.1,446.1 465.0,445.0C467.9,443.9 472.1,442.2 475.0,441.2C477.9,440.3 480.2,439.9 482.5,439.4C484.8,438.9 487.7,438.3 488.8,438.1"/>
<path class="bd" d="M383.0,459.4C385.8,459.4 393.0,459.4 400.0,459.4C407.0,459.4 419.0,459.5 425.2,459.4C431.5,459.3 433.8,459.3 437.5,458.8C441.2,458.2 444.6,457.1 447.5,456.2C450.4,455.4 452.1,454.6 455.0,453.8C457.9,452.9 461.7,451.7 465.0,451.0C468.3,450.3 472.1,449.8 475.0,449.4C477.9,449.0 480.2,448.7 482.5,448.5C484.8,448.3 487.7,448.2 488.8,448.1"/>
<path class="bd" d="M383.0,460.6C385.8,460.7 393.0,461.0 400.0,461.2C407.0,461.5 419.0,462.0 425.2,462.2C431.5,462.5 433.4,462.7 437.5,462.5C441.6,462.3 445.8,461.7 450.0,461.2C454.2,460.8 458.3,460.4 462.5,460.0C466.7,459.6 470.6,459.1 475.0,458.8C479.4,458.4 486.5,458.2 488.8,458.1"/>
<path class="bd" d="M425.2,462.2C425.6,462.5 426.3,462.9 427.5,463.8C428.7,464.6 431.0,466.2 432.5,467.5C434.0,468.8 435.0,470.3 436.2,471.2C437.5,472.2 439.4,472.8 440.0,473.1"/>
<path class="bd" d="M383.0,464.0C384.8,464.1 390.3,464.3 393.8,464.8C397.2,465.2 400.6,466.0 403.8,466.9C406.9,467.8 409.8,469.0 412.5,470.0C415.2,471.0 417.9,472.4 420.0,473.1C422.1,473.9 424.4,474.2 425.2,474.4"/>
<path class="bd" d="M425.2,474.4C426.9,474.1 431.7,472.9 435.0,472.5C438.3,472.1 441.7,472.0 445.0,471.9C448.3,471.7 452.1,471.5 455.0,471.5C457.9,471.5 460.0,471.6 462.5,471.9C465.0,472.1 467.5,472.8 470.0,473.1C472.5,473.4 474.4,473.8 477.5,473.8C480.6,473.7 486.9,472.9 488.8,472.8"/>
<path class="bd" d="M425.2,475.0C426.9,474.9 431.7,474.4 435.0,474.4C438.3,474.4 441.7,474.9 445.0,475.0C448.3,475.1 451.7,475.1 455.0,475.0C458.3,474.9 462.1,474.4 465.0,474.4C467.9,474.4 470.0,474.5 472.5,475.0C475.0,475.5 477.3,476.5 480.0,477.5C482.7,478.5 487.3,480.6 488.8,481.2"/>
<path class="bd" d="M425.2,475.6C426.9,475.7 432.1,475.8 435.0,476.2C437.9,476.7 440.0,477.2 442.5,478.1C445.0,479.1 447.5,480.8 450.0,481.9C452.5,482.9 454.6,483.7 457.5,484.4C460.4,485.1 464.2,485.7 467.5,486.0C470.8,486.3 474.0,486.3 477.5,486.2C481.0,486.2 486.9,485.7 488.8,485.6"/>
<path class="bd" d="M435.0,473.1C436.7,473.3 441.7,473.9 445.0,474.4C448.3,474.9 451.7,475.7 455.0,476.2C458.3,476.8 461.7,477.4 465.0,477.5C468.3,477.6 472.1,477.3 475.0,476.9C477.9,476.5 480.2,475.5 482.5,475.0C484.8,474.5 487.7,474.0 488.8,473.8"/>
<path class="bd" d="M382.9,546.0C384.0,543.8 386.9,538.0 389.6,532.7C392.2,527.4 396.2,518.8 398.7,514.4C401.3,510.0 403.1,509.1 405.0,506.2C406.9,503.4 408.3,500.4 410.0,497.5C411.7,494.6 413.3,491.5 415.0,488.8C416.7,486.0 418.3,483.5 420.0,481.2C421.7,479.0 423.6,476.6 425.2,475.0C426.9,473.4 428.4,472.8 430.0,471.9C431.6,470.9 433.3,470.4 435.0,469.4C436.7,468.3 438.3,466.9 440.0,465.6C441.7,464.3 443.3,463.0 445.0,461.5C446.7,460.0 447.5,459.5 450.0,456.9C452.5,454.2 457.1,449.0 460.0,445.6C462.9,442.3 465.0,439.8 467.5,436.9C470.0,434.0 472.9,430.5 475.0,428.1C477.1,425.7 477.7,424.5 480.0,422.5C482.3,420.5 487.3,417.3 488.8,416.2"/>
<path class="bd" d="M382.9,546.0C384.8,544.2 390.0,538.5 394.2,535.0C398.3,531.4 404.1,527.2 407.9,524.7C411.7,522.2 414.2,521.1 417.1,520.1C419.9,519.1 422.0,519.5 425.1,519.0C428.1,518.4 432.2,518.6 435.4,516.7C438.6,514.8 441.5,510.4 444.6,507.5C447.6,504.6 450.7,501.6 453.7,499.5C456.8,497.4 459.5,496.4 462.9,494.9C466.3,493.4 470.0,491.8 474.4,490.3C478.7,488.8 486.4,486.5 488.8,485.7"/>
<path class="bd" d="M382.9,546.0C384.8,544.2 390.0,538.7 394.2,535.2C398.3,531.7 404.1,527.4 407.9,524.9C411.7,522.4 414.2,521.3 417.1,520.3C419.9,519.4 422.0,519.6 425.1,519.2C428.1,518.8 431.4,519.0 435.4,517.8C439.4,516.6 444.6,514.2 449.2,512.1C453.7,510.0 458.3,507.1 462.9,505.2C467.5,503.3 472.3,502.0 476.6,500.6C481.0,499.3 486.8,497.8 488.8,497.2"/>
</g>
<g clip-path="url(#c1)">
<path class="bd" d="M505.2,224.4C506.1,224.6 508.8,225.6 510.5,225.6C512.2,225.6 513.8,225.1 515.5,224.4C517.2,223.6 518.8,222.5 520.5,221.2C522.2,220.0 523.8,218.4 525.5,216.9C527.2,215.3 528.8,213.5 530.5,211.9C532.2,210.2 533.8,208.5 535.5,206.9C537.2,205.2 538.8,203.4 540.5,201.9C542.2,200.3 543.8,198.9 545.5,197.5C547.2,196.1 548.8,194.7 550.5,193.5C552.2,192.3 553.8,191.2 555.5,190.2C557.2,189.2 558.8,188.3 560.5,187.5C562.2,186.7 563.8,186.1 565.5,185.6C567.2,185.1 568.8,184.7 570.5,184.4C572.2,184.0 573.6,183.7 575.5,183.5C577.4,183.3 580.7,183.2 581.8,183.1"/>
<path class="bd" d="M505.2,210.0C518.0,210.0 569.0,210.0 581.8,210.0"/>
<path class="bd" d="M505.2,250.6C506.1,250.9 508.4,251.8 510.5,252.2C512.6,252.7 515.5,253.4 518.0,253.5C520.5,253.6 522.6,253.6 525.5,253.1C528.4,252.6 532.2,251.5 535.5,250.6C538.8,249.8 542.2,248.9 545.5,248.1C548.8,247.4 552.2,246.6 555.5,246.0C558.8,245.4 562.2,244.8 565.5,244.4C568.8,244.0 572.8,243.7 575.5,243.5C578.2,243.3 580.7,243.3 581.8,243.2"/>
<path class="bd" d="M505.2,296.2C505.9,295.8 508.0,294.1 509.2,293.5C510.5,292.9 511.8,292.7 513.0,292.8C514.2,292.8 515.1,292.8 516.8,293.8C518.4,294.8 520.9,296.7 523.0,298.8C525.1,300.8 527.2,303.8 529.2,306.2C531.3,308.8 533.4,311.2 535.5,313.8C537.6,316.2 540.1,319.4 541.8,321.2C543.4,323.1 545.5,325.0 545.5,325.0C545.5,325.0 541.3,320.6 541.8,321.2C542.2,321.9 545.9,326.4 548.0,328.8C550.1,331.1 552.2,333.5 554.2,335.6C556.3,337.7 558.4,339.6 560.5,341.2C562.6,342.9 564.7,344.3 566.8,345.6C568.8,347.0 571.1,348.3 573.0,349.4C574.9,350.4 576.5,351.2 578.0,351.9C579.5,352.5 581.1,352.9 581.8,353.1"/>
<path class="bd" d="M505.2,360.6C506.5,361.0 510.0,362.4 513.0,363.1C516.0,363.9 519.7,364.5 523.0,365.0C526.3,365.5 529.7,365.9 533.0,366.0C536.3,366.1 539.7,366.0 543.0,365.6C546.3,365.2 549.7,364.6 553.0,363.8C556.3,362.9 559.7,361.8 563.0,360.6C566.3,359.5 569.9,357.9 573.0,356.9C576.1,355.8 580.3,354.8 581.8,354.4"/>
<path class="bd" d="M505.2,378.8C506.5,377.9 510.5,375.3 513.0,373.8C515.5,372.2 518.0,370.7 520.5,369.4C523.0,368.0 525.5,366.8 528.0,365.6C530.5,364.5 533.0,363.5 535.5,362.5C538.0,361.5 540.5,360.6 543.0,359.8C545.5,358.9 548.0,358.1 550.5,357.5C553.0,356.9 555.5,356.5 558.0,356.0C560.5,355.5 563.0,355.1 565.5,354.8C568.0,354.4 570.3,354.2 573.0,354.0C575.7,353.8 580.3,353.6 581.8,353.5"/>
<path class="bd" d="M505.2,391.9C506.5,391.9 510.5,392.1 513.0,391.9C515.5,391.7 517.8,391.4 520.5,390.6C523.2,389.9 526.3,388.5 529.2,387.5C532.2,386.5 534.9,385.5 538.0,384.4C541.1,383.2 544.7,381.7 548.0,380.6C551.3,379.5 554.7,378.5 558.0,377.8C561.3,377.0 565.1,376.6 568.0,376.2C570.9,375.9 573.2,375.8 575.5,375.8C577.8,375.7 580.7,375.9 581.8,375.9"/>
<path class="bd" d="M505.2,386.9C506.1,387.4 508.8,389.0 510.5,390.0C512.2,391.0 513.8,392.0 515.5,393.1C517.2,394.3 518.8,395.5 520.5,396.9C522.2,398.2 523.8,399.6 525.5,401.2C527.2,402.9 528.8,405.2 530.5,406.9C532.2,408.5 533.0,409.1 535.5,411.2C538.0,413.4 542.4,417.2 545.5,420.0C548.6,422.8 551.3,425.5 554.2,428.1C557.2,430.7 560.3,433.5 563.0,435.6C565.7,437.7 568.2,439.4 570.5,440.6C572.8,441.9 574.9,442.6 576.8,443.1C578.6,443.7 580.9,443.9 581.8,444.0"/>
<path class="bd" d="M505.2,415.6C506.1,415.1 508.4,413.3 510.5,412.5C512.6,411.7 515.5,411.0 518.0,410.6C520.5,410.2 523.0,410.0 525.5,410.2C528.0,410.5 530.5,410.9 533.0,411.9C535.5,412.9 538.0,414.5 540.5,416.2C543.0,418.0 545.5,420.2 548.0,422.5C550.5,424.8 553.0,427.5 555.5,430.0C558.0,432.5 560.5,435.3 563.0,437.5C565.5,439.7 568.2,441.8 570.5,443.1C572.8,444.5 574.9,445.1 576.8,445.6C578.6,446.1 580.9,446.1 581.8,446.2"/>
<path class="bd" d="M505.2,438.1C506.5,438.1 510.5,437.8 513.0,438.1C515.5,438.4 517.8,439.2 520.5,440.0C523.2,440.8 526.3,441.9 529.2,443.1C532.2,444.4 534.9,446.0 538.0,447.5C541.1,449.0 544.7,450.5 548.0,451.9C551.3,453.2 554.7,454.6 558.0,455.6C561.3,456.7 565.1,457.5 568.0,458.1C570.9,458.8 573.2,459.1 575.5,459.4C577.8,459.6 580.7,459.7 581.8,459.8"/>
<path class="bd" d="M505.2,448.1C507.2,448.1 512.8,447.9 516.8,448.1C520.8,448.3 525.1,448.8 529.2,449.4C533.4,450.0 537.6,450.9 541.8,451.9C545.9,452.8 550.1,454.0 554.2,455.0C558.4,456.0 562.2,457.3 566.8,458.1C571.3,459.0 579.2,459.7 581.8,460.0"/>
<path class="bd" d="M505.2,456.2C507.2,456.1 512.8,456.0 516.8,455.6C520.8,455.2 525.1,454.4 529.2,453.8C533.4,453.1 537.6,452.3 541.8,451.9C545.9,451.4 550.1,451.1 554.2,451.0C558.4,450.9 563.2,450.9 566.8,451.0C570.3,451.1 573.0,451.6 575.5,451.9C578.0,452.2 580.7,452.6 581.8,452.8"/>
<path class="bd" d="M505.2,458.1C508.2,458.0 516.9,457.5 523.0,457.5C529.1,457.5 535.5,457.9 541.8,458.1C548.0,458.4 555.3,458.8 560.5,459.0C565.7,459.2 569.5,459.3 573.0,459.4C576.5,459.4 580.3,459.4 581.8,459.4"/>
<path class="bd" d="M505.2,473.8C506.5,473.9 510.0,474.2 513.0,474.4C516.0,474.5 519.7,474.9 523.0,474.8C526.3,474.6 529.7,474.3 533.0,473.8C536.3,473.2 539.7,472.2 543.0,471.2C546.3,470.3 549.7,469.2 553.0,468.1C556.3,467.1 559.7,465.7 563.0,465.0C566.3,464.3 569.9,464.1 573.0,463.8C576.1,463.4 580.3,463.2 581.8,463.1"/>
<path class="bd" d="M505.2,480.0C508.2,480.2 518.0,481.1 523.0,481.2C528.0,481.4 531.3,481.5 535.5,480.6C539.7,479.8 544.2,477.8 548.0,476.2C551.8,474.7 554.7,472.9 558.0,471.2C561.3,469.6 565.1,467.8 568.0,466.2C570.9,464.7 573.2,462.9 575.5,461.9C577.8,460.8 580.7,460.3 581.8,460.0"/>
<path class="bd" d="M505.2,480.0C508.2,480.0 518.0,480.1 523.0,480.0C528.0,479.9 531.8,479.7 535.5,479.4C539.2,479.1 542.4,478.4 545.5,478.1C548.6,477.8 550.5,477.6 554.2,477.5C558.0,477.4 563.4,477.3 568.0,477.2C572.6,477.2 579.5,477.2 581.8,477.2"/>
<path class="bd" d="M505.2,485.0C507.2,485.1 513.4,485.6 516.8,485.6C520.1,485.6 523.0,485.2 525.5,485.0C528.0,484.8 529.5,483.8 531.8,484.4C534.0,485.0 537.0,487.3 539.2,488.8C541.5,490.2 543.6,491.7 545.5,493.1C547.4,494.6 548.8,495.8 550.5,497.5C552.2,499.2 553.8,501.0 555.5,503.1C557.2,505.2 558.8,507.6 560.5,510.0C562.2,512.4 563.8,514.8 565.5,517.5C567.2,520.2 568.8,523.3 570.5,526.2C572.2,529.2 574.0,532.5 575.5,535.0C577.0,537.5 578.2,539.5 579.2,541.2C580.2,543.0 581.1,544.9 581.5,545.6"/>
<path class="bd" d="M505.2,496.2C506.5,495.6 510.5,493.4 513.0,492.5C515.5,491.6 517.8,491.1 520.5,490.6C523.2,490.1 525.7,489.5 529.2,489.4C532.8,489.3 537.6,489.7 541.8,490.0C545.9,490.3 549.9,490.9 554.2,491.2C558.6,491.6 563.4,492.0 568.0,492.2C572.6,492.5 579.5,492.7 581.8,492.8"/>
<path class="bd" d="M505.2,498.1C506.5,497.9 510.0,497.3 513.0,496.9C516.0,496.5 519.2,496.0 523.0,495.6C526.8,495.3 531.3,495.0 535.5,494.8C539.7,494.5 543.8,494.2 548.0,494.0C552.2,493.8 556.3,493.8 560.5,493.8C564.7,493.7 569.5,493.8 573.0,493.8C576.5,493.8 580.3,493.8 581.8,493.8"/>
<path class="bd" d="M505.2,485.0C506.1,485.3 508.6,485.9 510.5,486.9C512.4,487.8 514.7,489.3 516.8,490.6C518.8,492.0 520.9,493.6 523.0,495.0C525.1,496.4 527.2,497.4 529.2,498.8C531.3,500.1 533.4,501.6 535.5,503.1C537.6,504.7 539.7,506.5 541.8,508.1C543.8,509.8 545.9,511.4 548.0,513.1C550.1,514.9 552.2,516.9 554.2,518.8C556.3,520.6 558.4,522.5 560.5,524.4C562.6,526.2 564.7,528.0 566.8,530.0C568.8,532.0 571.1,534.4 573.0,536.2C574.9,538.1 576.6,539.7 578.0,541.2C579.4,542.8 580.9,544.9 581.5,545.6"/>
<path class="bd" d="M505.2,498.8C506.5,498.8 510.5,498.6 513.0,498.8C515.5,498.9 518.0,498.9 520.5,499.4C523.0,499.9 525.5,500.8 528.0,501.9C530.5,502.9 533.2,504.3 535.5,505.6C537.8,507.0 539.7,508.5 541.8,510.0C543.8,511.5 545.9,512.8 548.0,514.4C550.1,515.9 552.2,517.6 554.2,519.4C556.3,521.1 558.4,523.1 560.5,525.0C562.6,526.9 564.7,528.6 566.8,530.6C568.8,532.6 571.1,535.0 573.0,536.9C574.9,538.8 576.6,540.4 578.0,541.9C579.4,543.3 580.9,545.0 581.5,545.6"/>
</g>
<g clip-path="url(#c2)">
<path class="bd" d="M598.3,246.2C599.1,245.8 601.3,244.7 602.9,243.7C604.4,242.6 606.6,240.6 607.4,240.0"/>
<path class="bd" d="M598.3,247.5C599.1,247.4 601.3,247.3 602.9,247.2C604.4,247.1 606.6,246.9 607.4,246.9"/>
<path class="bd" d="M598.3,251.2C599.1,251.2 601.3,251.2 602.9,251.2C604.4,251.2 606.6,251.2 607.4,251.2"/>
<path class="bd" d="M598.3,271.2C599.1,271.7 601.3,272.6 602.9,273.7C604.4,274.9 606.6,277.3 607.4,278.0"/>
<path class="bd" d="M598.3,327.5C599.1,327.7 601.3,328.3 602.9,328.8C604.4,329.2 606.6,329.8 607.4,330.0"/>
<path class="bd" d="M598.3,364.4C599.1,364.4 601.3,364.4 602.9,364.4C604.4,364.4 606.6,364.4 607.4,364.4"/>
<path class="bd" d="M598.3,380.0C599.1,380.1 601.3,380.4 602.9,380.6C604.4,380.8 606.6,381.1 607.4,381.2"/>
<path class="bd" d="M598.3,405.3C599.1,405.1 601.3,404.7 602.9,404.4C604.4,404.1 606.6,403.6 607.4,403.5"/>
<path class="bd" d="M598.3,413.3C599.1,413.3 601.3,413.3 602.9,413.3C604.4,413.3 606.6,413.3 607.4,413.3"/>
<path class="bd" d="M598.3,414.2C599.1,414.2 601.3,414.2 602.9,414.2C604.4,414.2 606.6,414.2 607.4,414.2"/>
<path class="bd" d="M598.3,455.6C599.1,455.6 601.3,455.6 602.9,455.6C604.4,455.6 606.6,455.6 607.4,455.6"/>
<path class="bd" d="M598.3,461.2C599.1,461.1 601.3,460.8 602.9,460.6C604.4,460.4 606.6,460.1 607.4,460.0"/>
<path class="bd" d="M598.3,476.9C599.1,476.9 601.3,476.9 602.9,476.9C604.4,476.9 606.6,476.9 607.4,476.9"/>
<path class="bd" d="M598.3,479.4C599.1,479.4 601.3,479.4 602.9,479.4C604.4,479.4 606.6,479.4 607.4,479.4"/>
<path class="bd" d="M598.3,481.9C599.1,481.9 601.3,481.9 602.9,481.9C604.4,481.9 606.6,481.9 607.4,481.9"/>
<path class="bd" d="M598.3,484.4C599.1,484.4 601.3,484.4 602.9,484.4C604.4,484.4 606.6,484.4 607.4,484.4"/>
<path class="bd" d="M598.3,490.0C599.1,490.0 601.3,490.0 602.9,490.0C604.4,490.0 606.6,490.0 607.4,490.0"/>
<path class="bd" d="M598.3,491.5C599.1,491.5 601.3,491.5 602.9,491.5C604.4,491.5 606.6,491.5 607.4,491.5"/>
<path class="bd" d="M598.3,493.0C599.1,493.0 601.3,493.0 602.9,493.0C604.4,493.0 606.6,493.0 607.4,493.0"/>
<path class="bd" d="M598.3,498.8C599.1,498.6 601.3,498.2 602.9,497.9C604.4,497.6 606.6,497.1 607.4,497.0"/>
</g>
<g clip-path="url(#c3)">
<path class="bd" d="M623.9,240.0C625.2,238.5 629.4,234.1 632.0,231.2C634.6,228.4 637.0,225.7 639.5,223.1C642.0,220.5 644.5,217.9 647.0,215.6C649.5,213.3 652.0,211.1 654.5,209.4C657.0,207.6 659.5,206.1 662.0,205.0C664.5,203.9 667.0,203.1 669.5,202.5C672.0,201.9 674.5,201.6 677.0,201.5C679.5,201.4 682.0,201.4 684.5,201.9C687.0,202.4 689.5,203.5 692.0,204.4C694.5,205.3 697.2,206.5 699.5,207.2C701.8,208.0 703.4,208.8 705.8,209.0C708.1,209.2 712.5,208.6 713.9,208.5"/>
<path class="bd" d="M623.9,244.6C625.2,244.2 629.0,243.2 632.0,241.9C635.0,240.6 638.7,238.6 642.0,236.9C645.3,235.1 648.7,233.1 652.0,231.2C655.3,229.4 658.7,227.4 662.0,225.6C665.3,223.9 668.7,222.2 672.0,220.6C675.3,219.1 678.7,217.6 682.0,216.2C685.3,214.9 688.7,213.5 692.0,212.5C695.3,211.5 698.4,210.8 702.0,210.0C705.6,209.2 711.9,208.1 713.9,207.8"/>
<path class="bd" d="M623.9,251.2C625.6,251.1 631.1,251.0 634.5,250.6C637.9,250.2 641.2,249.6 644.5,248.8C647.8,247.9 651.2,247.0 654.5,245.6C657.8,244.3 661.2,242.6 664.5,240.6C667.8,238.6 671.6,236.0 674.5,233.8C677.4,231.5 679.5,229.2 682.0,226.9C684.5,224.6 687.0,222.2 689.5,220.0C692.0,217.8 694.7,215.4 697.0,213.8C699.3,212.1 701.4,210.8 703.2,210.0C705.1,209.2 706.5,209.1 708.2,209.0C710.0,208.9 712.9,209.3 713.9,209.4"/>
<path class="bd" d="M623.9,277.5C625.2,279.2 629.4,284.1 632.0,287.5C634.6,290.9 637.0,294.6 639.5,298.1C642.0,301.7 644.5,305.2 647.0,308.8C649.5,312.3 652.0,315.8 654.5,319.4C657.0,322.9 660.1,327.4 662.0,330.0C663.9,332.6 664.3,333.1 665.8,335.0C667.2,336.9 668.9,339.0 670.8,341.2C672.6,343.5 674.9,346.4 677.0,348.8C679.1,351.1 681.2,353.4 683.2,355.6C685.3,357.8 687.4,359.9 689.5,361.9C691.6,363.9 693.7,365.8 695.8,367.5C697.8,369.2 699.9,370.7 702.0,371.9C704.1,373.0 706.3,373.8 708.2,374.4C710.2,375.0 712.9,375.4 713.9,375.6"/>
<path class="bd" d="M623.9,329.8C625.2,330.3 630.4,332.2 632.0,333.1C633.6,334.0 631.8,333.9 633.2,335.0C634.7,336.1 638.2,338.2 640.8,340.0C643.2,341.8 645.8,343.8 648.2,345.6C650.8,347.5 653.2,349.3 655.8,351.2C658.2,353.2 660.8,355.5 663.2,357.5C665.8,359.5 668.2,361.4 670.8,363.1C673.2,364.9 675.8,366.7 678.2,368.1C680.8,369.6 683.2,370.9 685.8,371.9C688.2,372.9 690.5,373.4 693.2,374.0C696.0,374.6 698.6,374.9 702.0,375.2C705.4,375.6 711.9,375.9 713.9,376.0"/>
<path class="bd" d="M623.9,364.4C625.2,364.3 629.4,364.3 632.0,364.0C634.6,363.7 637.0,363.2 639.5,362.8C642.0,362.2 644.5,361.6 647.0,361.0C649.5,360.4 652.0,359.8 654.5,359.0C657.0,358.2 659.5,357.4 662.0,356.5C664.5,355.6 667.0,354.5 669.5,353.5C672.0,352.5 674.5,351.4 677.0,350.2C679.5,349.1 682.0,348.0 684.5,346.9C687.0,345.8 689.5,344.7 692.0,343.8C694.5,342.8 697.0,341.9 699.5,341.2C702.0,340.6 704.6,340.1 707.0,339.8C709.4,339.4 712.7,339.2 713.9,339.1"/>
<path class="bd" d="M623.9,403.8C625.2,403.1 629.4,401.5 632.0,400.0C634.6,398.5 637.0,396.8 639.5,395.0C642.0,393.2 644.5,391.4 647.0,389.4C649.5,387.4 652.0,385.1 654.5,383.1C657.0,381.1 659.5,379.3 662.0,377.5C664.5,375.7 667.0,374.0 669.5,372.5C672.0,371.0 674.5,369.8 677.0,368.5C679.5,367.2 682.0,366.0 684.5,365.0C687.0,364.0 689.5,363.2 692.0,362.5C694.5,361.8 697.0,361.4 699.5,361.0C702.0,360.6 704.6,360.4 707.0,360.2C709.4,360.1 712.7,360.0 713.9,360.0"/>
<path class="bd" d="M623.9,380.8C625.2,381.2 629.4,382.4 632.0,383.8C634.6,385.1 637.4,387.2 639.5,388.8C641.6,390.3 642.8,391.5 644.5,393.1C646.2,394.8 647.8,396.8 649.5,398.8C651.2,400.7 652.8,402.9 654.5,405.0C656.2,407.1 658.2,410.0 659.5,411.2C660.8,412.5 660.5,411.0 662.0,412.5C663.5,414.0 666.4,417.5 668.2,420.0C670.1,422.5 671.6,425.0 673.2,427.5C674.9,430.0 676.4,432.5 678.2,435.0C680.1,437.5 682.4,440.2 684.5,442.5C686.6,444.8 688.7,447.0 690.8,448.8C692.8,450.5 694.9,452.0 697.0,453.1C699.1,454.3 700.4,455.0 703.2,455.6C706.1,456.2 712.1,456.7 713.9,456.9"/>
<path class="bd" d="M623.9,413.8C626.1,413.8 632.7,413.6 637.0,413.8C641.3,413.9 645.8,414.2 649.5,414.8C653.2,415.3 656.4,416.0 659.5,416.9C662.6,417.8 665.3,418.8 668.2,420.0C671.2,421.2 674.1,422.7 677.0,424.4C679.9,426.0 683.0,428.0 685.8,430.0C688.5,432.0 690.8,434.3 693.2,436.2C695.8,438.2 698.5,440.5 700.8,441.9C703.0,443.3 704.8,444.1 707.0,444.8C709.2,445.4 712.7,445.8 713.9,446.0"/>
<path class="bd" d="M623.9,415.0C626.1,415.2 632.7,415.5 637.0,416.0C641.3,416.5 645.8,417.3 649.5,418.1C653.2,419.0 656.4,420.0 659.5,421.0C662.6,422.0 665.3,423.1 668.2,424.4C671.2,425.7 674.1,427.1 677.0,428.8C679.9,430.4 683.0,432.4 685.8,434.4C688.5,436.4 690.8,438.6 693.2,440.6C695.8,442.6 698.5,444.7 700.8,446.2C703.0,447.8 704.8,449.1 707.0,450.0C709.2,450.9 712.7,451.2 713.9,451.5"/>
<path class="bd" d="M623.9,455.6C625.6,455.5 631.1,455.3 634.5,455.0C637.9,454.7 641.2,454.2 644.5,454.0C647.8,453.8 651.6,453.5 654.5,453.5C657.4,453.5 659.5,453.6 662.0,454.0C664.5,454.4 667.0,454.9 669.5,455.6C672.0,456.4 674.5,457.4 677.0,458.5C679.5,459.6 682.0,461.1 684.5,462.5C687.0,463.9 689.5,465.5 692.0,466.9C694.5,468.2 697.0,469.5 699.5,470.6C702.0,471.7 704.6,472.8 707.0,473.5C709.4,474.2 712.7,474.8 713.9,475.0"/>
<path class="bd" d="M623.9,460.0C625.2,459.7 629.4,458.7 632.0,458.1C634.6,457.5 637.0,456.8 639.5,456.5C642.0,456.2 644.5,456.1 647.0,456.2C649.5,456.4 652.0,457.0 654.5,457.5C657.0,458.0 659.5,458.9 662.0,459.4C664.5,459.9 667.0,460.4 669.5,460.6C672.0,460.8 674.5,460.8 677.0,460.6C679.5,460.4 682.0,459.7 684.5,459.4C687.0,459.0 689.1,458.8 692.0,458.5C694.9,458.2 698.4,457.9 702.0,457.8C705.6,457.6 711.9,457.5 713.9,457.5"/>
<path class="bd" d="M623.9,456.9C625.2,456.8 629.0,456.7 632.0,456.5C635.0,456.3 638.7,455.9 642.0,455.6C645.3,455.4 648.7,454.9 652.0,455.0C655.3,455.1 658.9,455.6 662.0,456.2C665.1,456.9 669.3,458.3 670.8,458.8"/>
<path class="bd" d="M623.9,476.9C625.2,476.9 629.4,477.1 632.0,476.9C634.6,476.7 636.6,476.2 639.5,475.6C642.4,475.1 646.2,474.4 649.5,473.5C652.8,472.6 656.6,471.1 659.5,470.0C662.4,468.9 664.5,467.6 667.0,466.9C669.5,466.1 672.0,465.6 674.5,465.6C677.0,465.6 679.5,466.2 682.0,466.9C684.5,467.5 687.0,468.5 689.5,469.4C692.0,470.2 694.5,471.1 697.0,471.9C699.5,472.6 701.7,473.2 704.5,473.8C707.3,474.3 712.3,474.8 713.9,475.0"/>
<path class="bd" d="M623.9,480.0C625.6,479.8 631.1,479.4 634.5,478.8C637.9,478.1 641.2,477.1 644.5,476.2C647.8,475.4 651.2,474.1 654.5,473.5C657.8,472.9 661.2,472.8 664.5,472.5C667.8,472.2 670.8,472.0 674.5,471.9C678.2,471.8 683.2,471.8 687.0,471.9C690.8,472.0 693.7,472.2 697.0,472.5C700.3,472.8 704.2,473.3 707.0,473.8C709.8,474.2 712.7,474.8 713.9,475.0"/>
<path class="bd" d="M623.9,482.5C626.1,482.6 633.6,483.3 637.0,483.1C640.4,482.9 642.0,482.1 644.5,481.2C647.0,480.4 649.5,479.1 652.0,478.1C654.5,477.2 656.6,476.1 659.5,475.6C662.4,475.1 665.8,475.1 669.5,475.0C673.2,474.9 678.2,475.1 682.0,475.0C685.8,474.9 689.5,474.8 692.0,474.4C694.5,474.0 695.3,473.4 697.0,472.5C698.7,471.6 700.3,470.0 702.0,468.8C703.7,467.5 705.0,466.1 707.0,465.0C709.0,463.9 712.7,462.4 713.9,461.9"/>
<path class="bd" d="M623.9,485.0C626.1,485.0 632.7,485.1 637.0,485.0C641.3,484.9 645.3,484.7 649.5,484.4C653.7,484.1 657.8,483.6 662.0,483.1C666.2,482.6 670.8,482.0 674.5,481.2C678.2,480.5 681.6,479.8 684.5,478.8C687.4,477.7 689.5,476.5 692.0,475.0C694.5,473.5 697.2,471.6 699.5,470.0C701.8,468.4 703.4,466.9 705.8,465.6C708.1,464.4 712.5,463.0 713.9,462.5"/>
<path class="bd" d="M623.9,488.1C626.1,488.2 632.7,488.5 637.0,488.5C641.3,488.5 645.8,488.4 649.5,488.1C653.2,487.9 656.2,487.5 659.5,486.9C662.8,486.2 666.2,485.2 669.5,484.4C672.8,483.5 676.2,482.6 679.5,481.9C682.8,481.1 686.2,480.5 689.5,480.0C692.8,479.5 695.4,479.2 699.5,478.8C703.6,478.3 711.5,477.7 713.9,477.5"/>
<path class="bd" d="M623.9,490.0C625.8,490.1 630.6,490.5 635.0,490.5C639.4,490.5 645.8,490.0 650.0,490.0C654.2,490.0 656.7,490.0 660.0,490.5C663.3,491.0 667.0,492.0 670.0,493.0C673.0,494.0 675.5,495.2 678.0,496.5C680.5,497.8 682.7,499.3 685.0,501.0C687.3,502.7 689.7,504.7 692.0,506.5C694.3,508.3 696.7,510.3 699.0,512.0C701.3,513.7 703.5,515.3 706.0,516.5C708.5,517.7 712.5,518.6 713.8,519.0"/>
<path class="bd" d="M623.9,491.5C625.8,491.5 630.6,491.6 635.0,491.5C639.4,491.4 645.8,491.0 650.0,491.0C654.2,491.0 656.7,490.9 660.0,491.5C663.3,492.1 667.0,493.4 670.0,494.5C673.0,495.6 675.5,496.7 678.0,498.0C680.5,499.3 682.7,500.8 685.0,502.5C687.3,504.2 689.7,506.2 692.0,508.0C694.3,509.8 696.7,511.9 699.0,513.5C701.3,515.1 703.5,516.5 706.0,517.5C708.5,518.5 712.5,519.3 713.8,519.7"/>
<path class="bd" d="M623.9,494.5C625.4,494.3 629.5,493.7 633.0,493.5C636.5,493.3 641.3,493.2 645.0,493.2C648.7,493.2 652.0,493.2 655.0,493.5C658.0,493.8 660.2,494.1 663.0,494.8C665.8,495.5 669.2,496.7 672.0,497.5C674.8,498.3 677.0,499.1 680.0,499.5C683.0,499.9 686.7,499.9 690.0,500.0C693.3,500.1 696.0,499.9 700.0,500.0C704.0,500.1 711.5,500.4 713.8,500.5"/>
<path class="bd" d="M623.9,499.0C625.4,498.8 629.8,498.0 633.0,497.5C636.2,497.0 640.2,496.2 643.0,496.2C645.8,496.2 647.5,496.9 650.0,497.5C652.5,498.1 655.3,499.2 658.0,500.0C660.7,500.8 663.3,501.9 666.0,502.5C668.7,503.1 671.3,503.4 674.0,503.5C676.7,503.6 679.3,503.2 682.0,503.0C684.7,502.8 687.0,502.2 690.0,502.0C693.0,501.8 696.0,501.6 700.0,501.5C704.0,501.4 711.5,501.2 713.8,501.2"/>
<path class="bd" d="M623.9,496.5C625.4,496.2 629.8,495.3 633.0,495.0C636.2,494.7 640.2,494.4 643.0,494.5C645.8,494.6 647.2,495.0 650.0,495.5C652.8,496.0 657.0,496.8 660.0,497.5C663.0,498.2 665.3,499.2 668.0,500.0C670.7,500.8 673.7,501.5 676.0,502.0C678.3,502.5 681.0,502.7 682.0,502.8"/>
</g>
<g clip-path="url(#c4)">
<path class="ds" stroke="#1f77b4" d="M730.5,186.0C730.5,185.9 731.0,184.3 731.2,185.0C731.5,185.7 732.2,191.1 732.8,192.5C733.3,193.9 735.8,197.8 736.5,198.8C737.2,199.8 739.6,201.9 740.2,202.5C740.9,203.1 742.5,203.8 742.8,204.4C743.0,204.9 742.1,207.6 742.8,208.1C743.4,208.7 747.1,209.5 749.0,209.8C750.9,210.0 759.3,210.5 761.5,210.6C763.7,210.8 770.9,211.1 770.9,211.2C770.9,211.4 763.4,212.0 761.5,212.2C759.6,212.5 752.9,213.1 751.5,213.5C750.1,213.9 747.7,215.7 747.1,216.2C746.6,216.8 745.9,218.1 745.9,218.8C745.9,219.4 746.6,221.9 747.1,222.5C747.6,223.1 750.2,224.5 750.9,224.8C751.6,225.0 754.2,225.0 754.0,225.2C753.8,225.5 749.9,226.3 749.0,226.9C748.1,227.4 745.8,229.8 745.2,230.6C744.8,231.4 744.1,234.1 744.0,235.0C743.9,235.9 744.4,239.1 744.6,240.0C744.9,240.9 746.7,243.8 746.5,244.4C746.3,245.0 742.5,245.9 742.8,246.2C743.0,246.6 747.8,247.8 749.0,248.1C750.2,248.4 753.4,248.8 755.2,249.0C757.1,249.2 765.2,249.8 767.8,250.0C770.2,250.2 777.1,250.6 780.2,250.8C783.4,250.9 799.0,251.4 799.0,251.5C799.0,251.6 784.0,251.9 780.2,252.0C776.5,252.1 765.2,252.3 761.5,252.5C757.8,252.7 745.8,253.3 742.8,253.5C739.8,253.7 732.7,253.8 731.5,254.0C730.3,254.2 731.0,247.4 731.0,256.0C730.9,264.6 730.9,331.5 731.0,340.0C731.0,348.5 731.6,340.0 731.8,341.2C731.9,342.5 732.6,350.4 732.8,352.5C732.9,354.6 732.9,360.8 733.0,362.5C733.1,364.2 733.6,368.9 734.0,370.0C734.4,371.1 736.1,373.1 736.5,373.8C736.9,374.4 738.5,375.6 738.4,376.0C738.2,376.4 735.7,377.2 735.2,377.8C734.8,378.3 734.1,380.5 734.0,381.2C733.9,382.0 734.4,384.1 734.2,385.0C734.1,385.9 733.2,388.5 733.0,390.0C732.8,391.5 732.6,398.0 732.5,400.0C732.4,402.0 731.8,407.5 731.8,410.0C731.7,412.5 732.0,421.0 732.0,425.0C732.0,429.0 732.2,445.5 732.2,450.0C732.2,454.5 731.9,467.5 732.0,470.0C732.1,472.5 733.0,474.0 733.0,475.0C733.0,476.0 732.1,478.8 732.0,480.0C731.9,481.2 732.1,485.5 732.1,487.5C732.1,489.5 731.8,497.5 731.8,500.0C731.7,502.5 731.3,508.0 731.2,512.5C731.2,517.0 731.0,541.8 731.0,545.0"/>
<path class="ds" stroke="#ff7f0e" d="M730.5,180.0C730.5,183.0 730.8,204.0 730.9,210.0C730.9,216.0 730.8,236.5 730.9,240.0C730.9,243.5 731.2,244.2 731.5,245.0C731.8,245.8 733.6,247.8 734.0,248.1C734.4,248.4 734.8,247.9 735.2,248.1C735.8,248.3 737.8,249.7 739.0,250.0C740.2,250.3 747.8,251.0 747.8,251.2C747.8,251.5 740.5,252.1 739.0,252.2C737.5,252.4 733.5,252.9 732.8,253.1C732.0,253.3 731.2,251.6 731.0,254.0C730.8,256.4 731.0,273.6 731.0,277.5C731.0,281.4 731.1,290.8 731.2,292.5C731.4,294.2 732.8,294.5 732.8,295.0C732.8,295.5 731.4,295.5 731.2,297.5C731.1,299.5 731.5,311.5 731.5,315.0C731.5,318.5 731.6,330.0 731.8,332.5C731.9,335.0 732.3,338.9 732.8,340.0C733.2,341.1 735.8,343.1 736.5,343.8C737.2,344.4 740.0,345.9 739.6,346.5C739.2,347.1 733.4,348.9 732.8,349.4C732.1,349.9 732.5,350.8 733.4,351.2C734.2,351.7 739.7,353.1 741.5,353.5C743.3,353.9 750.3,354.6 751.5,355.0C752.7,355.4 752.0,357.0 753.4,357.5C754.8,358.0 765.3,359.3 765.2,359.8C765.2,360.2 753.1,361.8 752.8,362.2C752.4,362.7 759.6,364.0 761.5,364.4C763.4,364.8 772.8,365.9 772.1,366.2C771.5,366.6 758.2,367.8 755.2,368.1C752.3,368.4 744.2,369.1 742.8,369.4C741.2,369.7 740.4,370.6 740.2,371.2C740.1,371.9 740.9,375.1 740.9,376.2C740.9,377.4 740.4,381.5 740.2,382.5C740.1,383.5 739.4,385.6 739.0,386.2C738.6,386.9 735.9,387.9 735.9,388.5C735.8,389.1 737.8,391.9 738.4,392.5C738.9,393.1 741.6,394.4 741.5,395.0C741.4,395.6 738.0,397.4 737.8,398.1C737.5,398.9 739.0,401.7 739.0,402.5C739.0,403.3 737.8,406.5 737.8,406.2C737.7,406.0 738.4,400.1 738.4,400.0C738.4,399.9 737.6,404.1 737.8,405.0C737.9,405.9 739.6,408.7 740.2,409.4C740.9,410.1 744.1,411.4 744.0,411.9C743.9,412.3 740.1,413.1 739.6,413.8C739.1,414.4 739.2,417.6 739.2,418.8C739.2,419.9 739.6,423.8 739.6,425.0C739.6,426.2 739.0,430.1 739.0,431.2C739.0,432.4 738.9,435.6 739.6,436.2C740.4,436.9 746.7,437.7 746.5,438.1C746.3,438.6 737.5,440.2 737.8,440.6C738.0,441.1 747.2,442.2 749.0,442.5C750.8,442.8 755.3,443.3 755.9,443.8C756.4,444.2 754.0,446.4 754.6,446.9C755.2,447.4 762.4,448.5 762.1,449.0C761.9,449.5 752.5,451.0 752.1,451.5C751.8,452.0 758.7,453.9 758.4,454.4C758.1,454.9 749.2,455.9 749.0,456.2C748.8,456.6 754.0,457.4 756.5,457.8C759.0,458.1 771.4,459.4 774.0,459.8C776.6,460.1 783.4,460.9 782.8,461.2C782.1,461.6 771.0,463.2 767.8,463.8C764.5,464.3 751.5,466.3 750.2,466.9C749.0,467.4 755.0,468.9 755.2,469.4C755.5,469.8 751.8,470.8 752.8,471.2C753.8,471.7 763.2,473.4 765.2,473.8C767.2,474.1 773.4,474.8 772.8,475.2C772.1,475.7 761.7,477.6 759.0,478.1C756.3,478.7 746.9,480.2 745.9,480.6C744.9,481.1 747.5,482.3 749.0,482.8C750.5,483.2 761.5,484.6 760.9,485.0C760.2,485.4 744.8,485.9 742.8,486.2C740.7,486.6 740.1,487.8 740.2,488.1C740.4,488.5 743.5,489.4 744.0,490.0C744.5,490.6 744.9,493.1 745.2,493.8C745.6,494.4 748.1,495.6 747.8,496.0C747.4,496.4 742.5,497.7 741.5,498.1C740.5,498.6 738.4,499.7 737.8,500.6C737.1,501.6 735.8,506.1 735.2,507.5C734.8,508.9 733.1,513.2 732.8,515.0C732.4,516.8 731.7,522.0 731.5,525.0C731.3,528.0 731.0,543.0 731.0,545.0"/>
<path class="ds" stroke="#2ca02c" d="M730.5,186.0C730.5,185.9 731.1,184.3 731.2,185.0C731.4,185.7 731.9,191.0 732.1,192.5C732.4,194.0 733.6,198.8 734.0,200.0C734.4,201.2 736.3,203.6 736.5,204.4C736.7,205.1 735.6,207.0 735.9,207.5C736.1,208.0 737.9,209.1 739.0,209.4C740.1,209.7 745.0,210.5 746.5,210.6C748.0,210.8 754.0,210.9 754.0,211.0C754.0,211.1 748.0,211.6 746.5,211.9C745.0,212.2 740.1,213.2 739.0,213.8C737.9,214.3 736.4,216.4 735.9,217.5C735.3,218.6 733.8,223.2 733.4,225.0C733.0,226.8 732.0,233.0 731.8,235.0C731.5,237.0 731.1,242.0 731.0,245.0C730.9,248.0 731.0,262.0 731.0,265.0C731.0,268.0 731.2,273.2 731.2,275.0C731.3,276.8 731.6,281.0 731.8,282.5C731.9,284.0 732.3,288.9 732.5,290.0C732.7,291.1 733.1,292.7 734.0,293.1C734.9,293.6 739.8,294.1 741.5,294.4C743.2,294.6 751.4,295.3 751.5,295.6C751.6,295.9 744.1,296.8 742.8,297.2C741.4,297.8 739.0,299.9 738.4,300.6C737.8,301.4 736.8,303.9 736.5,305.0C736.2,306.1 735.5,310.0 735.2,311.2C735.0,312.5 734.4,316.1 734.2,317.5C734.1,318.9 733.4,324.2 733.4,325.0C733.3,325.8 733.6,324.6 733.8,325.0C733.9,325.4 734.3,328.8 734.6,329.4C735.0,329.9 736.9,329.8 737.1,330.6C737.3,331.4 736.6,336.1 736.5,337.5C736.4,338.9 736.0,343.8 735.9,345.0C735.8,346.2 735.1,348.7 735.2,349.4C735.4,350.1 737.0,351.4 737.8,351.9C738.5,352.4 742.0,354.0 742.8,354.4C743.5,354.8 745.3,355.3 745.2,355.6C745.2,355.9 742.2,357.1 742.1,357.5C742.0,357.9 744.3,359.6 744.0,360.0C743.7,360.4 739.1,361.5 739.0,361.9C738.9,362.2 741.8,363.4 742.8,363.8C743.8,364.1 748.7,364.9 749.0,365.2C749.3,365.6 746.7,367.1 745.9,367.5C745.1,367.9 741.2,368.5 740.9,369.0C740.6,369.5 741.9,371.9 742.8,372.5C743.6,373.1 747.8,374.6 749.0,375.0C750.2,375.4 754.7,375.8 754.6,376.0C754.6,376.2 748.9,376.5 748.4,376.9C747.8,377.2 748.8,378.8 749.0,379.4C749.2,379.9 750.8,381.8 750.2,382.5C749.8,383.2 745.2,385.6 744.0,386.2C742.8,386.9 738.0,387.9 737.8,388.5C737.5,389.1 740.6,391.3 741.5,391.9C742.4,392.4 747.1,393.6 747.1,394.0C747.2,394.4 743.0,395.8 742.1,396.2C741.2,396.7 738.4,397.5 738.4,398.1C738.3,398.8 741.1,401.7 741.5,402.5C741.9,403.3 742.8,406.5 742.8,406.2C742.7,406.0 741.0,400.1 740.9,400.0C740.8,399.9 741.2,404.1 741.5,405.0C741.8,405.9 743.2,408.0 744.0,408.8C744.8,409.5 749.8,411.6 749.6,412.1C749.5,412.7 743.6,413.7 742.8,414.4C741.9,415.0 741.7,417.7 741.5,418.8C741.3,419.8 741.0,423.8 740.9,425.0C740.7,426.2 740.1,430.2 740.0,431.2C739.9,432.3 739.1,435.0 740.0,435.6C740.9,436.2 747.1,437.2 749.0,437.5C750.9,437.8 759.4,438.2 759.0,438.5C758.6,438.8 746.2,439.5 745.2,440.0C744.2,440.5 749.1,442.6 749.0,443.1C748.9,443.7 744.4,445.1 744.6,445.6C744.8,446.2 751.4,448.1 750.9,448.8C750.4,449.4 739.6,451.4 739.6,451.9C739.6,452.4 749.4,453.5 750.9,454.0C752.3,454.5 754.5,456.4 754.0,456.9C753.5,457.4 746.1,458.4 745.9,458.8C745.7,459.1 752.1,460.2 752.1,460.6C752.1,461.1 746.8,462.6 745.9,463.1C744.9,463.6 742.6,465.1 742.8,465.6C742.9,466.1 746.9,467.6 747.1,468.1C747.4,468.6 744.9,470.1 745.2,470.6C745.6,471.2 750.8,473.1 750.9,473.8C750.9,474.4 746.8,476.8 745.9,477.5C745.0,478.2 741.9,480.6 742.1,481.2C742.3,481.9 746.2,483.4 747.8,483.8C749.3,484.1 758.1,484.7 757.8,485.0C757.4,485.3 745.6,486.0 744.0,486.5C742.4,487.0 741.9,489.5 742.1,490.0C742.3,490.5 745.7,490.9 745.9,491.2C746.1,491.6 743.4,493.2 744.0,493.8C744.6,494.3 752.2,496.1 752.1,496.5C752.0,496.9 744.3,497.6 742.8,497.9C741.2,498.1 737.3,498.4 736.5,499.0C735.7,499.6 735.0,502.4 734.6,503.8C734.2,505.1 733.1,510.6 732.8,512.5C732.4,514.4 731.7,520.6 731.5,522.5C731.3,524.4 731.1,529.0 731.0,531.2C730.9,533.5 730.9,543.6 730.9,545.0"/>
<path class="ds" stroke="#d62728" d="M730.2,352.0C730.2,356.8 730.0,395.2 730.2,400.0C730.3,404.8 731.3,396.9 731.5,400.0C731.7,403.1 731.7,427.1 731.8,431.2C731.8,435.4 732.0,439.4 732.1,441.2C732.2,443.1 732.9,448.8 733.0,450.0C733.1,451.2 733.4,453.1 733.4,453.8C733.3,454.4 732.6,455.6 732.5,456.2C732.4,456.9 732.5,459.2 732.8,460.0C733.0,460.8 734.5,463.1 735.2,463.8C736.0,464.4 738.9,465.8 740.2,466.2C741.6,466.8 746.9,468.3 749.0,468.8C751.1,469.2 758.8,470.3 761.5,470.6C764.2,471.0 772.8,472.0 776.5,472.2C780.2,472.5 794.2,473.3 799.0,473.5C803.8,473.7 818.6,474.2 824.0,474.2C829.4,474.3 851.9,473.6 852.5,473.8C853.1,473.9 834.8,475.2 830.0,475.6C825.2,476.0 809.4,477.2 805.0,477.5C800.6,477.8 790.2,477.9 786.5,478.1C782.8,478.4 770.6,479.7 767.8,480.0C764.9,480.3 757.1,481.0 757.8,481.2C758.4,481.5 769.9,482.2 774.0,482.5C778.1,482.8 794.4,483.5 799.0,483.8C803.6,484.0 819.4,485.0 820.0,485.2C820.6,485.5 808.2,486.2 805.0,486.5C801.8,486.8 787.5,487.5 787.5,487.8C787.5,488.0 802.0,488.8 805.0,489.0C808.0,489.2 815.1,489.8 817.5,490.0C819.9,490.2 828.8,490.8 828.8,491.0C828.8,491.2 817.4,492.0 817.5,492.2C817.6,492.5 827.9,493.3 830.0,493.5C832.1,493.7 838.1,494.4 838.1,494.6C838.1,494.9 833.3,495.9 830.0,496.2C826.7,496.6 809.4,497.9 805.0,498.1C800.6,498.4 790.9,498.7 786.5,499.0C782.1,499.3 765.2,500.6 761.5,501.2C757.8,501.9 751.0,504.1 749.0,505.0C747.0,505.9 742.8,508.9 741.5,510.0C740.2,511.1 737.3,514.9 736.5,516.2C735.7,517.6 733.9,522.2 733.4,523.8C732.9,525.2 731.8,529.6 731.5,531.2C731.2,532.9 730.9,538.6 730.9,540.0C730.8,541.4 730.9,544.5 730.9,545.0"/>
<path class="dt" d="M730.5,185.0C730.5,185.0 730.9,184.4 731.2,185.0C731.6,185.6 733.2,190.0 734.0,191.2C734.8,192.5 738.0,196.5 739.0,197.5C740.0,198.5 743.1,200.7 744.0,201.2C744.9,201.8 747.2,202.6 747.8,203.1C748.3,203.7 749.3,206.3 749.6,206.9C749.9,207.5 749.7,208.7 750.9,209.0C752.1,209.3 759.2,209.8 761.5,210.0C763.8,210.2 771.8,210.9 774.0,211.0C776.2,211.1 782.0,211.2 784.0,211.2C786.0,211.3 795.0,211.2 794.0,211.2C793.0,211.3 777.2,211.7 774.0,211.9C770.8,212.1 763.4,212.8 761.5,213.1C759.6,213.5 756.2,215.1 755.2,215.6C754.3,216.2 752.5,218.1 752.1,218.8C751.8,219.4 751.2,221.4 751.5,221.9C751.8,222.4 754.0,223.4 754.6,223.8C755.2,224.1 757.8,224.8 757.8,225.0C757.7,225.2 754.8,225.8 754.0,226.2C753.2,226.7 750.2,228.6 749.6,229.4C749.0,230.1 747.9,232.8 747.8,233.8C747.6,234.7 748.2,237.8 748.4,238.8C748.6,239.7 749.4,242.3 749.6,243.1C749.9,243.9 749.7,246.3 750.9,246.9C752.1,247.5 759.2,248.7 761.5,249.0C763.8,249.3 771.5,249.8 774.0,250.0C776.5,250.2 784.0,250.6 786.5,250.8C789.0,250.9 796.2,251.2 799.0,251.2C801.8,251.3 814.6,251.4 814.6,251.5C814.6,251.6 803.1,251.8 799.0,251.9C794.9,252.0 779.0,252.3 774.0,252.5C769.0,252.7 753.2,253.3 749.0,253.5C744.8,253.7 733.3,253.2 731.5,254.4C729.7,255.5 731.0,262.9 731.0,265.0C731.0,267.1 730.9,273.2 731.0,275.0C731.1,276.8 732.0,281.0 732.1,282.5C732.3,284.0 732.5,288.9 732.8,290.0C733.0,291.1 733.6,292.7 734.6,293.1C735.6,293.6 740.8,294.1 742.8,294.4C744.8,294.6 754.5,295.5 754.6,295.9C754.8,296.2 745.4,297.3 744.0,297.8C742.6,298.2 740.8,299.9 740.2,300.6C739.7,301.4 738.7,303.9 738.4,305.0C738.1,306.1 737.3,310.0 737.1,311.2C736.9,312.5 736.6,316.1 736.5,317.5C736.4,318.9 735.9,324.8 735.9,325.0C735.9,325.2 736.5,320.0 736.5,320.0C736.5,320.0 735.7,324.0 735.9,325.0C736.1,326.0 738.1,328.8 738.4,330.0C738.7,331.2 738.6,336.2 739.0,337.5C739.4,338.8 741.9,341.6 742.8,342.5C743.6,343.4 747.4,346.2 747.1,346.9C746.8,347.6 740.5,348.9 739.6,349.4C738.8,349.8 737.4,350.9 738.4,351.2C739.3,351.6 745.9,352.8 749.0,353.1C752.1,353.4 766.9,353.9 769.0,354.4C771.1,354.8 768.1,356.9 769.6,357.5C771.1,358.1 784.4,360.1 784.0,360.6C783.6,361.1 765.5,362.1 765.2,362.5C765.0,362.9 778.6,364.6 781.5,365.0C784.4,365.4 794.8,366.0 794.0,366.2C793.2,366.5 777.8,367.2 774.0,367.5C770.2,367.8 757.9,368.8 756.5,369.4C755.1,369.9 759.4,372.5 760.2,373.1C761.1,373.8 763.9,375.3 765.2,375.6C766.6,375.9 774.0,375.8 774.0,376.0C774.0,376.2 766.2,376.9 765.2,377.5C764.3,378.1 765.1,381.7 764.6,382.5C764.1,383.3 761.9,385.0 760.2,385.6C758.6,386.2 748.4,387.8 747.8,388.5C747.1,389.2 752.8,391.9 754.0,392.5C755.2,393.1 760.8,393.8 760.2,394.4C759.8,394.9 749.8,397.3 749.0,398.1C748.2,398.9 752.6,401.8 752.8,402.5C752.9,403.2 750.9,405.9 750.9,405.6C750.9,405.4 752.8,400.1 752.8,400.0C752.8,399.9 750.5,404.1 750.9,405.0C751.2,405.9 755.0,408.1 756.5,408.8C758.0,409.4 766.0,411.3 765.9,411.9C765.8,412.4 756.5,413.7 755.2,414.4C754.0,415.1 753.6,417.7 753.4,418.8C753.1,419.8 752.5,423.8 752.5,425.0C752.5,426.2 753.5,430.3 753.4,431.2C753.3,432.2 751.2,433.8 751.8,434.4C752.3,434.9 755.9,436.5 759.0,436.9C762.1,437.2 782.8,437.8 782.8,438.1C782.8,438.5 759.9,440.1 759.0,440.6C758.1,441.1 772.1,442.8 774.0,443.1C775.9,443.5 777.6,444.0 777.8,444.4C777.9,444.8 774.4,446.4 775.2,446.9C776.1,447.4 786.9,448.9 785.9,449.4C784.9,449.9 765.3,451.3 765.2,451.9C765.2,452.4 784.2,454.3 785.2,454.8C786.2,455.2 775.5,455.9 775.2,456.2C775.0,456.6 779.6,458.3 782.8,458.8C785.9,459.2 806.8,460.5 807.1,461.0C807.5,461.5 789.9,463.1 786.5,463.8C783.1,464.4 772.8,466.9 772.8,467.5C772.8,468.1 783.2,468.9 786.5,469.4C789.8,469.8 802.1,471.6 805.2,471.9C808.4,472.2 813.8,472.1 817.5,472.2C821.2,472.4 837.5,473.0 842.5,473.1C847.5,473.2 865.0,473.2 867.5,473.5C870.0,473.8 871.2,476.0 867.5,476.5C863.8,477.0 836.2,478.4 830.0,478.8C823.8,479.1 809.8,479.8 805.0,480.0C800.2,480.2 782.5,481.0 782.5,481.2C782.5,481.5 800.2,482.3 805.0,482.5C809.8,482.7 823.8,483.2 830.0,483.5C836.2,483.8 863.8,484.7 867.5,485.0C871.2,485.3 870.0,486.3 867.5,486.5C865.0,486.7 848.0,487.1 842.5,487.2C837.0,487.4 813.8,488.0 812.5,488.1C811.2,488.3 826.0,488.6 830.0,488.8C834.0,488.9 848.8,489.8 852.5,490.0C856.2,490.2 866.0,490.1 867.5,490.4C869.0,490.7 869.2,493.0 867.5,493.2C865.8,493.5 852.6,492.6 850.0,492.5C847.4,492.4 841.6,492.1 841.9,492.2C842.1,492.4 849.9,493.3 852.5,493.5C855.1,493.7 866.0,493.6 867.5,494.0C869.0,494.4 870.0,497.1 867.5,497.5C865.0,497.9 848.8,497.9 842.5,498.1C836.2,498.4 811.2,499.4 805.0,499.8C798.8,500.1 784.0,500.8 780.0,501.2C776.0,501.7 767.9,503.7 765.2,504.4C762.6,505.1 756.0,507.3 754.0,508.1C752.0,508.9 746.8,511.4 745.2,512.5C743.8,513.6 740.1,517.5 739.0,518.8C737.9,520.0 735.3,523.8 734.6,525.0C733.9,526.2 732.5,530.0 732.1,531.2C731.8,532.5 731.1,536.1 731.0,537.5C730.9,538.9 730.9,544.2 730.9,545.0"/>
</g>
<rect class="sp" x="120.0" y="162.5" width="368.8" height="402.2"/>
<rect class="sp" x="505.3" y="162.5" width="76.7" height="402.2"/>
<rect class="sp" x="598.3" y="162.5" width="9.1" height="402.2"/>
<rect class="sp" x="623.9" y="162.5" width="89.9" height="402.2"/>
<rect class="sp" x="730.2" y="162.5" width="134.0" height="402.2"/>
<g opacity="0.999">
<text x="111.3" y="553.9" text-anchor="end">0</text>
<text x="111.3" y="498.5" text-anchor="end">2</text>
<text x="111.3" y="443.1" text-anchor="end">4</text>
<text x="111.3" y="387.7" text-anchor="end">6</text>
<text x="111.3" y="332.3" text-anchor="end">8</text>
<text x="111.3" y="276.9" text-anchor="end">10</text>
<text x="111.3" y="221.5" text-anchor="end">12</text>
<text transform="translate(73.9,363.4) rotate(-90)" text-anchor="middle" textLength="166" lengthAdjust="spacingAndGlyphs">Frequency (THz)</text>
<text x="120.0" y="585.8" text-anchor="middle">Γ</text>
<text x="219.0" y="585.8" text-anchor="middle">X</text>
<text x="240.0" y="585.8" text-anchor="middle">P</text>
<text x="309.8" y="585.8" text-anchor="middle">N</text>
<text x="383.0" y="585.8" text-anchor="middle">Γ</text>
<text x="425.2" y="585.8" text-anchor="middle">M</text>
<text x="488.8" y="585.8" text-anchor="middle">S</text>
<text x="503.7" y="585.8" text-anchor="middle">S<tspan font-size="14.2" dy="5.2">0</tspan></text>
<text x="582.0" y="585.8" text-anchor="middle">Γ</text>
<text x="598.3" y="585.8" text-anchor="middle">X</text>
<text x="607.4" y="585.8" text-anchor="middle">R</text>
<text x="623.9" y="585.8" text-anchor="middle">G</text>
<text x="713.8" y="585.8" text-anchor="middle">M</text>
<text x="730.2" y="587.6" text-anchor="middle">0</text>
<text x="817.3" y="587.6" text-anchor="middle">5</text>
</g>
</svg>
</body></html>
